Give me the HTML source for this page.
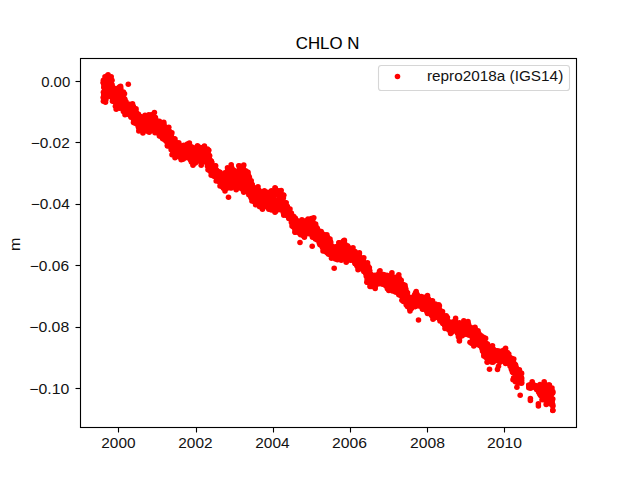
<!DOCTYPE html>
<html><head><meta charset="utf-8"><style>
html,body{margin:0;padding:0;background:#fff;width:640px;height:480px;overflow:hidden}
svg{display:block}
text{font-family:"Liberation Sans",sans-serif}
</style></head><body>
<svg width="640" height="480" viewBox="0 0 640 480" fill="#000">
<rect width="640" height="480" fill="#fff"/>
<g fill="#f00" stroke="none">
<circle cx="238.8" cy="170.3" r="2.78"/><circle cx="375.6" cy="277.0" r="2.78"/><circle cx="327.5" cy="243.0" r="2.78"/><circle cx="127.6" cy="109.1" r="2.78"/><circle cx="119.1" cy="96.5" r="2.78"/><circle cx="132.6" cy="106.7" r="2.78"/><circle cx="280.9" cy="207.4" r="2.78"/><circle cx="155.2" cy="120.4" r="2.78"/><circle cx="365.8" cy="273.1" r="2.78"/><circle cx="344.7" cy="249.4" r="2.78"/><circle cx="511.7" cy="358.9" r="2.78"/><circle cx="462.4" cy="326.4" r="2.78"/><circle cx="163.7" cy="125.5" r="2.78"/><circle cx="232.4" cy="183.7" r="2.78"/><circle cx="179.0" cy="152.0" r="2.78"/><circle cx="370.6" cy="278.0" r="2.78"/><circle cx="332.5" cy="247.0" r="2.78"/><circle cx="128.3" cy="106.2" r="2.78"/><circle cx="388.0" cy="281.4" r="2.78"/><circle cx="234.8" cy="180.8" r="2.78"/><circle cx="292.9" cy="219.4" r="2.78"/><circle cx="435.6" cy="312.8" r="2.78"/><circle cx="205.5" cy="155.2" r="2.78"/><circle cx="323.0" cy="247.6" r="2.78"/><circle cx="408.5" cy="299.5" r="2.78"/><circle cx="513.3" cy="362.3" r="2.78"/><circle cx="278.3" cy="204.5" r="2.78"/><circle cx="166.9" cy="136.0" r="2.78"/><circle cx="119.8" cy="100.6" r="2.78"/><circle cx="423.2" cy="303.8" r="2.78"/><circle cx="469.5" cy="330.3" r="2.78"/><circle cx="394.2" cy="285.0" r="2.78"/><circle cx="345.9" cy="251.8" r="2.78"/><circle cx="454.7" cy="329.4" r="2.78"/><circle cx="301.7" cy="229.7" r="2.78"/><circle cx="128.8" cy="111.6" r="2.78"/><circle cx="374.0" cy="286.4" r="2.78"/><circle cx="447.1" cy="321.4" r="2.78"/><circle cx="264.7" cy="202.7" r="2.78"/><circle cx="112.8" cy="94.3" r="2.78"/><circle cx="173.7" cy="139.8" r="2.78"/><circle cx="128.0" cy="112.0" r="2.78"/><circle cx="157.5" cy="124.8" r="2.78"/><circle cx="266.9" cy="205.9" r="2.78"/><circle cx="137.1" cy="119.0" r="2.78"/><circle cx="333.2" cy="256.1" r="2.78"/><circle cx="446.0" cy="326.4" r="2.78"/><circle cx="219.8" cy="177.9" r="2.78"/><circle cx="253.4" cy="199.4" r="2.78"/><circle cx="503.9" cy="352.1" r="2.78"/><circle cx="177.1" cy="145.9" r="2.78"/><circle cx="201.0" cy="155.2" r="2.78"/><circle cx="349.8" cy="251.0" r="2.78"/><circle cx="105.1" cy="87.6" r="2.78"/><circle cx="257.8" cy="197.6" r="2.78"/><circle cx="502.0" cy="358.0" r="2.78"/><circle cx="319.0" cy="237.5" r="2.78"/><circle cx="386.2" cy="277.2" r="2.78"/><circle cx="479.6" cy="343.1" r="2.78"/><circle cx="469.1" cy="335.1" r="2.78"/><circle cx="267.5" cy="199.3" r="2.78"/><circle cx="146.7" cy="125.7" r="2.78"/><circle cx="129.4" cy="105.1" r="2.78"/><circle cx="190.7" cy="148.6" r="2.78"/><circle cx="245.6" cy="170.8" r="2.78"/><circle cx="103.5" cy="83.2" r="2.78"/><circle cx="145.8" cy="121.9" r="2.78"/><circle cx="114.0" cy="101.3" r="2.78"/><circle cx="360.2" cy="257.3" r="2.78"/><circle cx="208.9" cy="158.4" r="2.78"/><circle cx="255.7" cy="190.7" r="2.78"/><circle cx="458.4" cy="336.8" r="2.78"/><circle cx="298.3" cy="227.0" r="2.78"/><circle cx="139.3" cy="117.3" r="2.78"/><circle cx="246.7" cy="177.0" r="2.78"/><circle cx="450.0" cy="323.6" r="2.78"/><circle cx="113.0" cy="100.3" r="2.78"/><circle cx="324.3" cy="237.1" r="2.78"/><circle cx="330.6" cy="242.2" r="2.78"/><circle cx="324.3" cy="250.2" r="2.78"/><circle cx="464.5" cy="329.9" r="2.78"/><circle cx="212.6" cy="168.7" r="2.78"/><circle cx="173.2" cy="150.5" r="2.78"/><circle cx="326.1" cy="248.5" r="2.78"/><circle cx="241.3" cy="171.4" r="2.78"/><circle cx="442.8" cy="323.5" r="2.78"/><circle cx="460.0" cy="335.8" r="2.78"/><circle cx="445.6" cy="324.7" r="2.78"/><circle cx="198.2" cy="154.0" r="2.78"/><circle cx="252.1" cy="184.6" r="2.78"/><circle cx="115.1" cy="94.1" r="2.78"/><circle cx="211.8" cy="171.1" r="2.78"/><circle cx="503.4" cy="355.4" r="2.78"/><circle cx="495.3" cy="360.6" r="2.78"/><circle cx="502.8" cy="354.6" r="2.78"/><circle cx="195.6" cy="150.9" r="2.78"/><circle cx="185.7" cy="148.3" r="2.78"/><circle cx="364.4" cy="270.1" r="2.78"/><circle cx="454.9" cy="325.0" r="2.78"/><circle cx="376.5" cy="284.1" r="2.78"/><circle cx="138.8" cy="124.9" r="2.78"/><circle cx="483.9" cy="351.3" r="2.78"/><circle cx="417.1" cy="299.6" r="2.78"/><circle cx="178.0" cy="154.4" r="2.78"/><circle cx="242.5" cy="184.4" r="2.78"/><circle cx="509.8" cy="359.6" r="2.78"/><circle cx="271.3" cy="208.0" r="2.78"/><circle cx="406.5" cy="293.4" r="2.78"/><circle cx="156.5" cy="123.5" r="2.78"/><circle cx="481.8" cy="346.4" r="2.78"/><circle cx="164.5" cy="137.7" r="2.78"/><circle cx="513.4" cy="372.5" r="2.78"/><circle cx="249.9" cy="188.0" r="2.78"/><circle cx="158.2" cy="122.4" r="2.78"/><circle cx="509.4" cy="361.4" r="2.78"/><circle cx="323.6" cy="249.0" r="2.78"/><circle cx="284.8" cy="212.6" r="2.78"/><circle cx="448.9" cy="322.7" r="2.78"/><circle cx="208.7" cy="156.9" r="2.78"/><circle cx="204.0" cy="155.6" r="2.78"/><circle cx="211.9" cy="168.4" r="2.78"/><circle cx="158.2" cy="132.7" r="2.78"/><circle cx="251.3" cy="189.8" r="2.78"/><circle cx="347.4" cy="258.9" r="2.78"/><circle cx="279.3" cy="207.5" r="2.78"/><circle cx="313.2" cy="228.4" r="2.78"/><circle cx="322.3" cy="233.9" r="2.78"/><circle cx="287.5" cy="208.1" r="2.78"/><circle cx="105.0" cy="96.1" r="2.78"/><circle cx="175.5" cy="148.3" r="2.78"/><circle cx="406.7" cy="298.6" r="2.78"/><circle cx="239.7" cy="177.6" r="2.78"/><circle cx="335.7" cy="255.5" r="2.78"/><circle cx="147.8" cy="124.5" r="2.78"/><circle cx="207.3" cy="154.3" r="2.78"/><circle cx="426.4" cy="304.2" r="2.78"/><circle cx="338.3" cy="255.1" r="2.78"/><circle cx="485.0" cy="347.2" r="2.78"/><circle cx="359.6" cy="261.7" r="2.78"/><circle cx="317.6" cy="236.9" r="2.78"/><circle cx="292.6" cy="221.0" r="2.78"/><circle cx="303.3" cy="234.2" r="2.78"/><circle cx="395.8" cy="289.9" r="2.78"/><circle cx="497.4" cy="354.4" r="2.78"/><circle cx="337.4" cy="257.5" r="2.78"/><circle cx="454.7" cy="321.9" r="2.78"/><circle cx="154.2" cy="121.7" r="2.78"/><circle cx="133.7" cy="110.5" r="2.78"/><circle cx="134.0" cy="117.1" r="2.78"/><circle cx="431.3" cy="314.4" r="2.78"/><circle cx="168.0" cy="140.3" r="2.78"/><circle cx="379.5" cy="274.4" r="2.78"/><circle cx="472.6" cy="342.9" r="2.78"/><circle cx="195.2" cy="161.0" r="2.78"/><circle cx="269.9" cy="200.1" r="2.78"/><circle cx="517.4" cy="382.6" r="2.78"/><circle cx="170.9" cy="139.2" r="2.78"/><circle cx="319.0" cy="234.2" r="2.78"/><circle cx="185.2" cy="149.6" r="2.78"/><circle cx="405.4" cy="288.3" r="2.78"/><circle cx="335.1" cy="252.2" r="2.78"/><circle cx="110.9" cy="83.7" r="2.78"/><circle cx="364.3" cy="265.7" r="2.78"/><circle cx="130.3" cy="115.3" r="2.78"/><circle cx="433.1" cy="317.2" r="2.78"/><circle cx="147.2" cy="120.3" r="2.78"/><circle cx="119.9" cy="102.6" r="2.78"/><circle cx="216.5" cy="170.0" r="2.78"/><circle cx="280.0" cy="208.0" r="2.78"/><circle cx="445.9" cy="319.7" r="2.78"/><circle cx="165.9" cy="140.9" r="2.78"/><circle cx="342.0" cy="254.2" r="2.78"/><circle cx="140.8" cy="117.0" r="2.78"/><circle cx="391.2" cy="280.9" r="2.78"/><circle cx="133.7" cy="120.5" r="2.78"/><circle cx="368.7" cy="280.1" r="2.78"/><circle cx="138.4" cy="127.0" r="2.78"/><circle cx="131.2" cy="114.7" r="2.78"/><circle cx="293.2" cy="220.3" r="2.78"/><circle cx="334.7" cy="256.8" r="2.78"/><circle cx="215.4" cy="168.6" r="2.78"/><circle cx="323.8" cy="238.2" r="2.78"/><circle cx="149.2" cy="118.5" r="2.78"/><circle cx="124.5" cy="98.7" r="2.78"/><circle cx="233.9" cy="176.5" r="2.78"/><circle cx="421.0" cy="300.5" r="2.78"/><circle cx="312.5" cy="222.4" r="2.78"/><circle cx="248.5" cy="175.4" r="2.78"/><circle cx="208.1" cy="151.4" r="2.78"/><circle cx="410.0" cy="305.1" r="2.78"/><circle cx="182.6" cy="151.7" r="2.78"/><circle cx="494.3" cy="350.3" r="2.78"/><circle cx="445.9" cy="321.6" r="2.78"/><circle cx="310.4" cy="231.4" r="2.78"/><circle cx="267.8" cy="200.7" r="2.78"/><circle cx="391.0" cy="289.0" r="2.78"/><circle cx="246.7" cy="188.7" r="2.78"/><circle cx="399.0" cy="287.4" r="2.78"/><circle cx="272.6" cy="197.2" r="2.78"/><circle cx="126.1" cy="104.7" r="2.78"/><circle cx="133.0" cy="116.3" r="2.78"/><circle cx="210.3" cy="160.2" r="2.78"/><circle cx="138.7" cy="127.3" r="2.78"/><circle cx="467.5" cy="329.8" r="2.78"/><circle cx="221.3" cy="176.7" r="2.78"/><circle cx="225.9" cy="180.0" r="2.78"/><circle cx="169.3" cy="137.0" r="2.78"/><circle cx="213.5" cy="175.9" r="2.78"/><circle cx="510.2" cy="361.3" r="2.78"/><circle cx="205.6" cy="159.6" r="2.78"/><circle cx="232.8" cy="176.0" r="2.78"/><circle cx="103.8" cy="87.5" r="2.78"/><circle cx="301.9" cy="227.7" r="2.78"/><circle cx="187.4" cy="150.9" r="2.78"/><circle cx="105.5" cy="84.0" r="2.78"/><circle cx="140.9" cy="121.9" r="2.78"/><circle cx="120.8" cy="88.6" r="2.78"/><circle cx="230.6" cy="171.3" r="2.78"/><circle cx="348.3" cy="254.0" r="2.78"/><circle cx="417.3" cy="301.9" r="2.78"/><circle cx="402.8" cy="297.8" r="2.78"/><circle cx="266.3" cy="197.9" r="2.78"/><circle cx="515.2" cy="368.1" r="2.78"/><circle cx="406.3" cy="298.7" r="2.78"/><circle cx="121.7" cy="105.8" r="2.78"/><circle cx="476.4" cy="338.7" r="2.78"/><circle cx="410.3" cy="307.4" r="2.78"/><circle cx="161.6" cy="130.0" r="2.78"/><circle cx="314.3" cy="234.9" r="2.78"/><circle cx="439.9" cy="317.4" r="2.78"/><circle cx="347.7" cy="258.7" r="2.78"/><circle cx="389.0" cy="285.0" r="2.78"/><circle cx="199.6" cy="147.8" r="2.78"/><circle cx="159.0" cy="126.8" r="2.78"/><circle cx="147.3" cy="128.6" r="2.78"/><circle cx="337.0" cy="253.6" r="2.78"/><circle cx="365.3" cy="269.1" r="2.78"/><circle cx="308.0" cy="220.6" r="2.78"/><circle cx="437.0" cy="313.2" r="2.78"/><circle cx="313.7" cy="228.7" r="2.78"/><circle cx="379.1" cy="273.8" r="2.78"/><circle cx="411.5" cy="300.7" r="2.78"/><circle cx="134.5" cy="112.0" r="2.78"/><circle cx="408.4" cy="298.5" r="2.78"/><circle cx="412.8" cy="306.8" r="2.78"/><circle cx="310.0" cy="225.1" r="2.78"/><circle cx="303.7" cy="230.8" r="2.78"/><circle cx="424.2" cy="304.7" r="2.78"/><circle cx="372.2" cy="277.1" r="2.78"/><circle cx="165.0" cy="131.8" r="2.78"/><circle cx="414.2" cy="298.5" r="2.78"/><circle cx="340.8" cy="243.5" r="2.78"/><circle cx="128.8" cy="107.0" r="2.78"/><circle cx="384.4" cy="282.1" r="2.78"/><circle cx="386.0" cy="279.4" r="2.78"/><circle cx="319.4" cy="236.2" r="2.78"/><circle cx="298.4" cy="223.3" r="2.78"/><circle cx="477.1" cy="333.7" r="2.78"/><circle cx="512.5" cy="369.9" r="2.78"/><circle cx="110.7" cy="85.5" r="2.78"/><circle cx="446.3" cy="327.8" r="2.78"/><circle cx="291.4" cy="215.9" r="2.78"/><circle cx="191.1" cy="160.4" r="2.78"/><circle cx="191.5" cy="155.7" r="2.78"/><circle cx="162.7" cy="130.6" r="2.78"/><circle cx="501.9" cy="352.3" r="2.78"/><circle cx="446.4" cy="323.0" r="2.78"/><circle cx="474.3" cy="339.7" r="2.78"/><circle cx="200.2" cy="160.9" r="2.78"/><circle cx="306.7" cy="221.0" r="2.78"/><circle cx="104.9" cy="89.3" r="2.78"/><circle cx="291.9" cy="217.3" r="2.78"/><circle cx="162.2" cy="127.9" r="2.78"/><circle cx="235.6" cy="185.2" r="2.78"/><circle cx="104.1" cy="95.0" r="2.78"/><circle cx="454.3" cy="322.1" r="2.78"/><circle cx="490.8" cy="356.7" r="2.78"/><circle cx="480.5" cy="339.1" r="2.78"/><circle cx="259.1" cy="195.9" r="2.78"/><circle cx="521.1" cy="378.6" r="2.78"/><circle cx="254.2" cy="194.5" r="2.78"/><circle cx="218.5" cy="172.0" r="2.78"/><circle cx="145.9" cy="128.7" r="2.78"/><circle cx="222.8" cy="186.5" r="2.78"/><circle cx="207.7" cy="154.9" r="2.78"/><circle cx="317.1" cy="229.9" r="2.78"/><circle cx="259.5" cy="205.1" r="2.78"/><circle cx="473.2" cy="341.1" r="2.78"/><circle cx="367.2" cy="279.7" r="2.78"/><circle cx="496.8" cy="356.6" r="2.78"/><circle cx="404.3" cy="286.7" r="2.78"/><circle cx="409.7" cy="303.6" r="2.78"/><circle cx="418.2" cy="302.2" r="2.78"/><circle cx="223.1" cy="174.7" r="2.78"/><circle cx="491.0" cy="348.5" r="2.78"/><circle cx="300.9" cy="225.5" r="2.78"/><circle cx="227.9" cy="182.8" r="2.78"/><circle cx="511.7" cy="361.2" r="2.78"/><circle cx="377.7" cy="277.7" r="2.78"/><circle cx="336.5" cy="251.1" r="2.78"/><circle cx="173.4" cy="140.0" r="2.78"/><circle cx="190.3" cy="158.8" r="2.78"/><circle cx="311.3" cy="223.0" r="2.78"/><circle cx="482.4" cy="349.3" r="2.78"/><circle cx="291.6" cy="215.0" r="2.78"/><circle cx="183.9" cy="147.7" r="2.78"/><circle cx="246.4" cy="172.9" r="2.78"/><circle cx="203.4" cy="151.2" r="2.78"/><circle cx="341.6" cy="257.1" r="2.78"/><circle cx="416.9" cy="298.7" r="2.78"/><circle cx="276.5" cy="200.6" r="2.78"/><circle cx="261.0" cy="197.3" r="2.78"/><circle cx="129.3" cy="107.3" r="2.78"/><circle cx="508.1" cy="355.5" r="2.78"/><circle cx="313.9" cy="230.7" r="2.78"/><circle cx="464.3" cy="324.7" r="2.78"/><circle cx="216.7" cy="171.7" r="2.78"/><circle cx="270.6" cy="199.3" r="2.78"/><circle cx="502.4" cy="359.7" r="2.78"/><circle cx="468.5" cy="324.3" r="2.78"/><circle cx="116.9" cy="102.3" r="2.78"/><circle cx="478.0" cy="337.5" r="2.78"/><circle cx="349.0" cy="247.8" r="2.78"/><circle cx="267.1" cy="206.7" r="2.78"/><circle cx="448.7" cy="328.8" r="2.78"/><circle cx="510.0" cy="358.7" r="2.78"/><circle cx="149.0" cy="118.4" r="2.78"/><circle cx="321.9" cy="242.7" r="2.78"/><circle cx="497.1" cy="358.3" r="2.78"/><circle cx="374.1" cy="284.2" r="2.78"/><circle cx="294.7" cy="225.1" r="2.78"/><circle cx="119.9" cy="102.7" r="2.78"/><circle cx="200.7" cy="161.8" r="2.78"/><circle cx="373.4" cy="279.5" r="2.78"/><circle cx="156.9" cy="124.7" r="2.78"/><circle cx="369.5" cy="279.8" r="2.78"/><circle cx="150.3" cy="116.7" r="2.78"/><circle cx="322.7" cy="242.6" r="2.78"/><circle cx="265.7" cy="196.2" r="2.78"/><circle cx="354.8" cy="252.7" r="2.78"/><circle cx="229.5" cy="176.4" r="2.78"/><circle cx="504.4" cy="357.6" r="2.78"/><circle cx="473.0" cy="335.8" r="2.78"/><circle cx="201.6" cy="151.4" r="2.78"/><circle cx="505.1" cy="358.4" r="2.78"/><circle cx="231.9" cy="168.2" r="2.78"/><circle cx="311.8" cy="230.0" r="2.78"/><circle cx="279.0" cy="196.4" r="2.78"/><circle cx="382.5" cy="282.1" r="2.78"/><circle cx="198.2" cy="147.7" r="2.78"/><circle cx="244.8" cy="177.9" r="2.78"/><circle cx="388.9" cy="278.4" r="2.78"/><circle cx="436.7" cy="313.2" r="2.78"/><circle cx="314.5" cy="225.2" r="2.78"/><circle cx="509.0" cy="358.3" r="2.78"/><circle cx="446.3" cy="319.9" r="2.78"/><circle cx="196.0" cy="157.7" r="2.78"/><circle cx="226.7" cy="187.5" r="2.78"/><circle cx="310.7" cy="222.6" r="2.78"/><circle cx="196.8" cy="152.8" r="2.78"/><circle cx="381.6" cy="282.8" r="2.78"/><circle cx="164.6" cy="132.2" r="2.78"/><circle cx="192.4" cy="162.6" r="2.78"/><circle cx="162.7" cy="124.1" r="2.78"/><circle cx="128.5" cy="108.2" r="2.78"/><circle cx="479.0" cy="343.4" r="2.78"/><circle cx="409.8" cy="309.2" r="2.78"/><circle cx="493.0" cy="352.0" r="2.78"/><circle cx="181.0" cy="157.3" r="2.78"/><circle cx="415.5" cy="294.2" r="2.78"/><circle cx="381.3" cy="277.3" r="2.78"/><circle cx="259.8" cy="195.8" r="2.78"/><circle cx="174.2" cy="138.9" r="2.78"/><circle cx="220.4" cy="177.6" r="2.78"/><circle cx="503.0" cy="352.0" r="2.78"/><circle cx="506.7" cy="354.0" r="2.78"/><circle cx="252.5" cy="197.4" r="2.78"/><circle cx="447.2" cy="323.0" r="2.78"/><circle cx="124.0" cy="102.6" r="2.78"/><circle cx="259.3" cy="204.4" r="2.78"/><circle cx="184.1" cy="150.5" r="2.78"/><circle cx="478.5" cy="333.4" r="2.78"/><circle cx="275.2" cy="206.6" r="2.78"/><circle cx="424.0" cy="298.0" r="2.78"/><circle cx="118.0" cy="90.2" r="2.78"/><circle cx="488.2" cy="349.6" r="2.78"/><circle cx="415.9" cy="304.2" r="2.78"/><circle cx="245.2" cy="175.1" r="2.78"/><circle cx="503.9" cy="357.3" r="2.78"/><circle cx="213.0" cy="172.8" r="2.78"/><circle cx="235.7" cy="175.0" r="2.78"/><circle cx="105.0" cy="95.1" r="2.78"/><circle cx="486.7" cy="353.7" r="2.78"/><circle cx="497.9" cy="352.4" r="2.78"/><circle cx="201.2" cy="155.1" r="2.78"/><circle cx="503.5" cy="361.0" r="2.78"/><circle cx="265.0" cy="196.4" r="2.78"/><circle cx="283.2" cy="204.3" r="2.78"/><circle cx="491.5" cy="349.5" r="2.78"/><circle cx="439.0" cy="315.1" r="2.78"/><circle cx="447.5" cy="326.8" r="2.78"/><circle cx="357.4" cy="258.0" r="2.78"/><circle cx="237.0" cy="175.8" r="2.78"/><circle cx="430.5" cy="301.4" r="2.78"/><circle cx="185.9" cy="154.1" r="2.78"/><circle cx="206.8" cy="150.7" r="2.78"/><circle cx="117.5" cy="99.3" r="2.78"/><circle cx="239.6" cy="187.0" r="2.78"/><circle cx="472.9" cy="343.4" r="2.78"/><circle cx="214.2" cy="167.0" r="2.78"/><circle cx="143.7" cy="124.0" r="2.78"/><circle cx="400.2" cy="286.8" r="2.78"/><circle cx="201.3" cy="154.2" r="2.78"/><circle cx="362.8" cy="266.0" r="2.78"/><circle cx="416.2" cy="303.6" r="2.78"/><circle cx="381.3" cy="274.8" r="2.78"/><circle cx="455.1" cy="323.1" r="2.78"/><circle cx="340.5" cy="249.1" r="2.78"/><circle cx="412.1" cy="299.6" r="2.78"/><circle cx="206.9" cy="153.0" r="2.78"/><circle cx="167.5" cy="142.6" r="2.78"/><circle cx="345.2" cy="248.8" r="2.78"/><circle cx="269.0" cy="207.7" r="2.78"/><circle cx="315.6" cy="228.5" r="2.78"/><circle cx="441.5" cy="318.1" r="2.78"/><circle cx="517.8" cy="371.0" r="2.78"/><circle cx="301.9" cy="231.8" r="2.78"/><circle cx="454.9" cy="329.0" r="2.78"/><circle cx="120.3" cy="93.6" r="2.78"/><circle cx="153.2" cy="117.6" r="2.78"/><circle cx="510.3" cy="361.9" r="2.78"/><circle cx="492.4" cy="352.3" r="2.78"/><circle cx="465.6" cy="327.4" r="2.78"/><circle cx="212.1" cy="172.4" r="2.78"/><circle cx="498.9" cy="352.8" r="2.78"/><circle cx="352.7" cy="256.1" r="2.78"/><circle cx="194.4" cy="153.4" r="2.78"/><circle cx="162.5" cy="126.1" r="2.78"/><circle cx="210.0" cy="165.6" r="2.78"/><circle cx="375.9" cy="278.1" r="2.78"/><circle cx="108.1" cy="82.2" r="2.78"/><circle cx="387.1" cy="278.7" r="2.78"/><circle cx="234.0" cy="174.8" r="2.78"/><circle cx="436.0" cy="311.0" r="2.78"/><circle cx="129.8" cy="105.6" r="2.78"/><circle cx="268.7" cy="201.1" r="2.78"/><circle cx="370.7" cy="275.2" r="2.78"/><circle cx="171.8" cy="146.7" r="2.78"/><circle cx="274.8" cy="195.4" r="2.78"/><circle cx="232.0" cy="186.0" r="2.78"/><circle cx="234.0" cy="180.6" r="2.78"/><circle cx="252.8" cy="191.8" r="2.78"/><circle cx="464.8" cy="333.2" r="2.78"/><circle cx="255.5" cy="191.8" r="2.78"/><circle cx="407.9" cy="297.3" r="2.78"/><circle cx="105.8" cy="97.7" r="2.78"/><circle cx="280.6" cy="207.0" r="2.78"/><circle cx="273.3" cy="207.6" r="2.78"/><circle cx="296.1" cy="222.5" r="2.78"/><circle cx="109.6" cy="85.8" r="2.78"/><circle cx="371.3" cy="284.6" r="2.78"/><circle cx="140.6" cy="125.0" r="2.78"/><circle cx="258.5" cy="197.1" r="2.78"/><circle cx="164.4" cy="130.1" r="2.78"/><circle cx="321.3" cy="245.1" r="2.78"/><circle cx="148.9" cy="123.4" r="2.78"/><circle cx="440.0" cy="319.1" r="2.78"/><circle cx="185.9" cy="147.3" r="2.78"/><circle cx="497.8" cy="360.5" r="2.78"/><circle cx="305.3" cy="221.6" r="2.78"/><circle cx="490.7" cy="352.1" r="2.78"/><circle cx="481.6" cy="344.1" r="2.78"/><circle cx="448.2" cy="321.4" r="2.78"/><circle cx="432.0" cy="305.1" r="2.78"/><circle cx="272.6" cy="206.7" r="2.78"/><circle cx="450.2" cy="324.0" r="2.78"/><circle cx="194.6" cy="153.7" r="2.78"/><circle cx="320.0" cy="235.9" r="2.78"/><circle cx="154.8" cy="119.7" r="2.78"/><circle cx="406.6" cy="302.5" r="2.78"/><circle cx="120.6" cy="98.9" r="2.78"/><circle cx="420.2" cy="297.3" r="2.78"/><circle cx="454.0" cy="322.4" r="2.78"/><circle cx="354.1" cy="256.9" r="2.78"/><circle cx="365.6" cy="265.3" r="2.78"/><circle cx="279.1" cy="201.8" r="2.78"/><circle cx="281.4" cy="204.8" r="2.78"/><circle cx="290.2" cy="215.1" r="2.78"/><circle cx="113.2" cy="96.6" r="2.78"/><circle cx="308.1" cy="223.3" r="2.78"/><circle cx="422.7" cy="305.7" r="2.78"/><circle cx="295.1" cy="221.5" r="2.78"/><circle cx="301.3" cy="222.7" r="2.78"/><circle cx="157.1" cy="126.7" r="2.78"/><circle cx="141.7" cy="122.8" r="2.78"/><circle cx="316.7" cy="227.6" r="2.78"/><circle cx="369.6" cy="271.1" r="2.78"/><circle cx="410.2" cy="307.2" r="2.78"/><circle cx="317.3" cy="228.5" r="2.78"/><circle cx="314.1" cy="226.9" r="2.78"/><circle cx="501.1" cy="352.5" r="2.78"/><circle cx="461.8" cy="335.9" r="2.78"/><circle cx="409.6" cy="306.9" r="2.78"/><circle cx="184.4" cy="157.1" r="2.78"/><circle cx="309.1" cy="231.8" r="2.78"/><circle cx="486.5" cy="345.4" r="2.78"/><circle cx="433.1" cy="316.6" r="2.78"/><circle cx="130.8" cy="108.6" r="2.78"/><circle cx="419.6" cy="298.1" r="2.78"/><circle cx="478.3" cy="335.8" r="2.78"/><circle cx="444.5" cy="316.9" r="2.78"/><circle cx="313.4" cy="235.3" r="2.78"/><circle cx="190.5" cy="149.8" r="2.78"/><circle cx="315.0" cy="228.2" r="2.78"/><circle cx="118.8" cy="92.0" r="2.78"/><circle cx="170.8" cy="146.8" r="2.78"/><circle cx="387.6" cy="286.7" r="2.78"/><circle cx="174.0" cy="151.6" r="2.78"/><circle cx="151.5" cy="123.6" r="2.78"/><circle cx="369.5" cy="274.9" r="2.78"/><circle cx="468.5" cy="330.2" r="2.78"/><circle cx="346.0" cy="258.7" r="2.78"/><circle cx="147.1" cy="130.9" r="2.78"/><circle cx="366.8" cy="269.7" r="2.78"/><circle cx="437.0" cy="308.0" r="2.78"/><circle cx="517.6" cy="378.4" r="2.78"/><circle cx="254.1" cy="198.6" r="2.78"/><circle cx="288.4" cy="209.4" r="2.78"/><circle cx="414.4" cy="295.6" r="2.78"/><circle cx="446.3" cy="320.0" r="2.78"/><circle cx="370.7" cy="285.0" r="2.78"/><circle cx="348.4" cy="255.7" r="2.78"/><circle cx="234.1" cy="171.5" r="2.78"/><circle cx="117.5" cy="92.0" r="2.78"/><circle cx="361.0" cy="261.8" r="2.78"/><circle cx="317.8" cy="239.7" r="2.78"/><circle cx="158.6" cy="125.0" r="2.78"/><circle cx="376.5" cy="275.6" r="2.78"/><circle cx="104.5" cy="86.5" r="2.78"/><circle cx="147.9" cy="121.6" r="2.78"/><circle cx="197.2" cy="154.6" r="2.78"/><circle cx="349.8" cy="250.3" r="2.78"/><circle cx="364.3" cy="265.3" r="2.78"/><circle cx="159.7" cy="134.1" r="2.78"/><circle cx="205.3" cy="150.1" r="2.78"/><circle cx="143.4" cy="126.1" r="2.78"/><circle cx="467.8" cy="331.0" r="2.78"/><circle cx="271.5" cy="196.0" r="2.78"/><circle cx="108.2" cy="88.0" r="2.78"/><circle cx="338.6" cy="249.3" r="2.78"/><circle cx="373.4" cy="280.8" r="2.78"/><circle cx="495.3" cy="357.9" r="2.78"/><circle cx="207.3" cy="163.4" r="2.78"/><circle cx="121.8" cy="100.1" r="2.78"/><circle cx="273.2" cy="195.0" r="2.78"/><circle cx="127.8" cy="112.1" r="2.78"/><circle cx="108.5" cy="86.2" r="2.78"/><circle cx="496.9" cy="353.0" r="2.78"/><circle cx="186.8" cy="152.2" r="2.78"/><circle cx="315.4" cy="233.7" r="2.78"/><circle cx="443.6" cy="316.1" r="2.78"/><circle cx="232.8" cy="174.9" r="2.78"/><circle cx="123.7" cy="109.5" r="2.78"/><circle cx="430.9" cy="311.2" r="2.78"/><circle cx="106.0" cy="96.0" r="2.78"/><circle cx="415.0" cy="299.4" r="2.78"/><circle cx="413.6" cy="300.6" r="2.78"/><circle cx="197.9" cy="148.6" r="2.78"/><circle cx="200.5" cy="148.0" r="2.78"/><circle cx="243.7" cy="184.6" r="2.78"/><circle cx="394.1" cy="288.3" r="2.78"/><circle cx="401.0" cy="285.5" r="2.78"/><circle cx="335.0" cy="252.2" r="2.78"/><circle cx="433.1" cy="310.5" r="2.78"/><circle cx="214.3" cy="173.3" r="2.78"/><circle cx="507.0" cy="354.7" r="2.78"/><circle cx="471.5" cy="328.9" r="2.78"/><circle cx="212.3" cy="167.0" r="2.78"/><circle cx="414.5" cy="305.0" r="2.78"/><circle cx="415.5" cy="297.6" r="2.78"/><circle cx="471.5" cy="333.1" r="2.78"/><circle cx="203.4" cy="160.6" r="2.78"/><circle cx="367.2" cy="275.8" r="2.78"/><circle cx="381.6" cy="283.0" r="2.78"/><circle cx="299.7" cy="231.1" r="2.78"/><circle cx="395.2" cy="289.2" r="2.78"/><circle cx="286.2" cy="212.3" r="2.78"/><circle cx="341.9" cy="247.8" r="2.78"/><circle cx="192.0" cy="157.0" r="2.78"/><circle cx="135.9" cy="123.6" r="2.78"/><circle cx="163.9" cy="124.5" r="2.78"/><circle cx="148.0" cy="129.8" r="2.78"/><circle cx="247.6" cy="175.8" r="2.78"/><circle cx="115.4" cy="90.6" r="2.78"/><circle cx="393.1" cy="284.6" r="2.78"/><circle cx="394.9" cy="287.5" r="2.78"/><circle cx="130.9" cy="111.2" r="2.78"/><circle cx="255.4" cy="200.4" r="2.78"/><circle cx="446.2" cy="326.8" r="2.78"/><circle cx="131.0" cy="114.3" r="2.78"/><circle cx="485.8" cy="357.2" r="2.78"/><circle cx="148.2" cy="119.3" r="2.78"/><circle cx="150.2" cy="116.2" r="2.78"/><circle cx="457.9" cy="333.2" r="2.78"/><circle cx="368.6" cy="280.3" r="2.78"/><circle cx="367.5" cy="269.3" r="2.78"/><circle cx="145.2" cy="118.2" r="2.78"/><circle cx="420.1" cy="299.0" r="2.78"/><circle cx="236.9" cy="177.1" r="2.78"/><circle cx="112.1" cy="87.1" r="2.78"/><circle cx="221.6" cy="182.6" r="2.78"/><circle cx="257.3" cy="193.6" r="2.78"/><circle cx="506.6" cy="357.1" r="2.78"/><circle cx="459.5" cy="333.6" r="2.78"/><circle cx="116.3" cy="97.2" r="2.78"/><circle cx="285.9" cy="212.4" r="2.78"/><circle cx="248.4" cy="187.7" r="2.78"/><circle cx="328.3" cy="241.7" r="2.78"/><circle cx="464.0" cy="323.3" r="2.78"/><circle cx="446.3" cy="319.1" r="2.78"/><circle cx="103.9" cy="83.8" r="2.78"/><circle cx="422.2" cy="307.4" r="2.78"/><circle cx="105.2" cy="89.2" r="2.78"/><circle cx="308.9" cy="229.8" r="2.78"/><circle cx="180.6" cy="151.5" r="2.78"/><circle cx="248.6" cy="190.1" r="2.78"/><circle cx="212.4" cy="174.4" r="2.78"/><circle cx="222.0" cy="176.6" r="2.78"/><circle cx="395.9" cy="285.0" r="2.78"/><circle cx="149.4" cy="125.4" r="2.78"/><circle cx="137.2" cy="124.0" r="2.78"/><circle cx="395.0" cy="288.2" r="2.78"/><circle cx="366.0" cy="266.5" r="2.78"/><circle cx="271.2" cy="198.4" r="2.78"/><circle cx="475.8" cy="330.8" r="2.78"/><circle cx="475.0" cy="329.1" r="2.78"/><circle cx="189.6" cy="148.6" r="2.78"/><circle cx="480.3" cy="341.1" r="2.78"/><circle cx="262.0" cy="205.8" r="2.78"/><circle cx="201.1" cy="154.8" r="2.78"/><circle cx="325.7" cy="247.8" r="2.78"/><circle cx="418.3" cy="302.3" r="2.78"/><circle cx="249.1" cy="182.3" r="2.78"/><circle cx="168.3" cy="142.7" r="2.78"/><circle cx="380.3" cy="281.1" r="2.78"/><circle cx="174.3" cy="146.3" r="2.78"/><circle cx="426.9" cy="305.4" r="2.78"/><circle cx="156.1" cy="126.2" r="2.78"/><circle cx="473.6" cy="332.4" r="2.78"/><circle cx="183.5" cy="149.9" r="2.78"/><circle cx="397.5" cy="290.1" r="2.78"/><circle cx="168.0" cy="131.2" r="2.78"/><circle cx="206.9" cy="154.2" r="2.78"/><circle cx="321.8" cy="235.5" r="2.78"/><circle cx="240.6" cy="170.8" r="2.78"/><circle cx="511.2" cy="365.0" r="2.78"/><circle cx="146.0" cy="130.6" r="2.78"/><circle cx="145.9" cy="122.2" r="2.78"/><circle cx="514.9" cy="378.2" r="2.78"/><circle cx="410.1" cy="304.0" r="2.78"/><circle cx="185.4" cy="153.0" r="2.78"/><circle cx="148.1" cy="119.4" r="2.78"/><circle cx="265.8" cy="193.4" r="2.78"/><circle cx="270.3" cy="205.0" r="2.78"/><circle cx="393.4" cy="283.0" r="2.78"/><circle cx="367.9" cy="273.0" r="2.78"/><circle cx="162.7" cy="131.8" r="2.78"/><circle cx="272.6" cy="204.7" r="2.78"/><circle cx="483.1" cy="344.3" r="2.78"/><circle cx="343.4" cy="255.2" r="2.78"/><circle cx="279.5" cy="196.1" r="2.78"/><circle cx="405.4" cy="300.7" r="2.78"/><circle cx="427.1" cy="307.3" r="2.78"/><circle cx="459.9" cy="334.0" r="2.78"/><circle cx="371.7" cy="280.5" r="2.78"/><circle cx="234.3" cy="181.6" r="2.78"/><circle cx="144.3" cy="122.8" r="2.78"/><circle cx="430.6" cy="310.9" r="2.78"/><circle cx="366.7" cy="267.1" r="2.78"/><circle cx="280.5" cy="200.3" r="2.78"/><circle cx="363.3" cy="263.4" r="2.78"/><circle cx="385.8" cy="285.4" r="2.78"/><circle cx="179.9" cy="153.3" r="2.78"/><circle cx="428.8" cy="304.2" r="2.78"/><circle cx="308.3" cy="232.1" r="2.78"/><circle cx="119.3" cy="98.4" r="2.78"/><circle cx="170.7" cy="144.2" r="2.78"/><circle cx="496.8" cy="356.3" r="2.78"/><circle cx="145.7" cy="125.0" r="2.78"/><circle cx="329.7" cy="250.9" r="2.78"/><circle cx="317.6" cy="236.3" r="2.78"/><circle cx="450.1" cy="327.1" r="2.78"/><circle cx="275.0" cy="209.6" r="2.78"/><circle cx="191.2" cy="156.8" r="2.78"/><circle cx="267.5" cy="204.4" r="2.78"/><circle cx="154.6" cy="131.0" r="2.78"/><circle cx="252.1" cy="184.9" r="2.78"/><circle cx="218.1" cy="175.4" r="2.78"/><circle cx="108.9" cy="83.8" r="2.78"/><circle cx="279.3" cy="203.8" r="2.78"/><circle cx="250.7" cy="185.0" r="2.78"/><circle cx="197.2" cy="156.5" r="2.78"/><circle cx="496.5" cy="356.3" r="2.78"/><circle cx="194.9" cy="159.1" r="2.78"/><circle cx="267.3" cy="196.6" r="2.78"/><circle cx="157.5" cy="130.7" r="2.78"/><circle cx="442.0" cy="318.6" r="2.78"/><circle cx="299.6" cy="227.9" r="2.78"/><circle cx="197.9" cy="159.5" r="2.78"/><circle cx="251.1" cy="192.0" r="2.78"/><circle cx="445.8" cy="325.7" r="2.78"/><circle cx="299.2" cy="225.0" r="2.78"/><circle cx="332.7" cy="248.1" r="2.78"/><circle cx="452.1" cy="325.9" r="2.78"/><circle cx="459.2" cy="328.0" r="2.78"/><circle cx="260.7" cy="195.7" r="2.78"/><circle cx="281.6" cy="196.2" r="2.78"/><circle cx="104.5" cy="94.4" r="2.78"/><circle cx="221.0" cy="176.7" r="2.78"/><circle cx="229.6" cy="176.7" r="2.78"/><circle cx="282.6" cy="206.0" r="2.78"/><circle cx="379.1" cy="277.3" r="2.78"/><circle cx="491.8" cy="358.7" r="2.78"/><circle cx="127.2" cy="112.4" r="2.78"/><circle cx="482.2" cy="346.7" r="2.78"/><circle cx="162.1" cy="134.4" r="2.78"/><circle cx="368.2" cy="266.4" r="2.78"/><circle cx="108.2" cy="93.6" r="2.78"/><circle cx="377.7" cy="277.1" r="2.78"/><circle cx="145.8" cy="118.7" r="2.78"/><circle cx="201.1" cy="159.9" r="2.78"/><circle cx="248.3" cy="177.2" r="2.78"/><circle cx="481.5" cy="345.9" r="2.78"/><circle cx="173.6" cy="153.0" r="2.78"/><circle cx="357.8" cy="264.8" r="2.78"/><circle cx="383.0" cy="282.4" r="2.78"/><circle cx="433.0" cy="315.3" r="2.78"/><circle cx="185.9" cy="153.5" r="2.78"/><circle cx="325.4" cy="247.3" r="2.78"/><circle cx="286.8" cy="214.5" r="2.78"/><circle cx="335.5" cy="250.2" r="2.78"/><circle cx="201.3" cy="149.7" r="2.78"/><circle cx="309.6" cy="220.9" r="2.78"/><circle cx="298.7" cy="223.5" r="2.78"/><circle cx="308.9" cy="226.2" r="2.78"/><circle cx="329.0" cy="252.5" r="2.78"/><circle cx="106.1" cy="95.7" r="2.78"/><circle cx="299.1" cy="227.9" r="2.78"/><circle cx="381.6" cy="281.8" r="2.78"/><circle cx="260.2" cy="197.6" r="2.78"/><circle cx="505.1" cy="350.9" r="2.78"/><circle cx="369.8" cy="279.6" r="2.78"/><circle cx="115.3" cy="99.6" r="2.78"/><circle cx="388.9" cy="288.1" r="2.78"/><circle cx="241.6" cy="187.1" r="2.78"/><circle cx="316.9" cy="233.5" r="2.78"/><circle cx="478.8" cy="333.8" r="2.78"/><circle cx="403.8" cy="294.8" r="2.78"/><circle cx="245.0" cy="188.2" r="2.78"/><circle cx="256.5" cy="195.9" r="2.78"/><circle cx="323.2" cy="246.1" r="2.78"/><circle cx="191.5" cy="153.6" r="2.78"/><circle cx="280.0" cy="201.8" r="2.78"/><circle cx="449.1" cy="323.8" r="2.78"/><circle cx="449.6" cy="325.4" r="2.78"/><circle cx="314.1" cy="225.0" r="2.78"/><circle cx="315.2" cy="238.0" r="2.78"/><circle cx="377.1" cy="283.6" r="2.78"/><circle cx="241.8" cy="173.5" r="2.78"/><circle cx="228.5" cy="179.5" r="2.78"/><circle cx="368.9" cy="280.1" r="2.78"/><circle cx="120.1" cy="101.7" r="2.78"/><circle cx="473.8" cy="337.3" r="2.78"/><circle cx="124.2" cy="99.9" r="2.78"/><circle cx="106.0" cy="81.8" r="2.78"/><circle cx="488.8" cy="354.9" r="2.78"/><circle cx="378.6" cy="282.6" r="2.78"/><circle cx="483.9" cy="348.6" r="2.78"/><circle cx="361.3" cy="264.5" r="2.78"/><circle cx="394.6" cy="285.4" r="2.78"/><circle cx="388.2" cy="278.8" r="2.78"/><circle cx="382.3" cy="278.5" r="2.78"/><circle cx="422.4" cy="298.8" r="2.78"/><circle cx="179.2" cy="145.0" r="2.78"/><circle cx="427.3" cy="310.6" r="2.78"/><circle cx="377.6" cy="278.5" r="2.78"/><circle cx="447.4" cy="326.9" r="2.78"/><circle cx="338.5" cy="248.1" r="2.78"/><circle cx="229.7" cy="175.5" r="2.78"/><circle cx="236.6" cy="177.4" r="2.78"/><circle cx="371.8" cy="285.0" r="2.78"/><circle cx="126.2" cy="109.2" r="2.78"/><circle cx="119.9" cy="90.4" r="2.78"/><circle cx="442.3" cy="318.6" r="2.78"/><circle cx="487.6" cy="352.3" r="2.78"/><circle cx="109.3" cy="83.2" r="2.78"/><circle cx="351.0" cy="258.3" r="2.78"/><circle cx="513.6" cy="369.4" r="2.78"/><circle cx="275.9" cy="192.0" r="2.78"/><circle cx="372.9" cy="278.5" r="2.78"/><circle cx="166.9" cy="128.9" r="2.78"/><circle cx="105.4" cy="93.5" r="2.78"/><circle cx="154.3" cy="130.7" r="2.78"/><circle cx="140.2" cy="128.4" r="2.78"/><circle cx="157.3" cy="122.2" r="2.78"/><circle cx="404.2" cy="289.5" r="2.78"/><circle cx="410.2" cy="301.5" r="2.78"/><circle cx="124.4" cy="108.4" r="2.78"/><circle cx="401.8" cy="296.3" r="2.78"/><circle cx="408.6" cy="297.6" r="2.78"/><circle cx="366.3" cy="271.3" r="2.78"/><circle cx="296.0" cy="230.5" r="2.78"/><circle cx="209.6" cy="170.4" r="2.78"/><circle cx="403.3" cy="284.8" r="2.78"/><circle cx="109.5" cy="87.3" r="2.78"/><circle cx="445.2" cy="317.0" r="2.78"/><circle cx="233.5" cy="183.0" r="2.78"/><circle cx="172.8" cy="151.6" r="2.78"/><circle cx="306.8" cy="221.4" r="2.78"/><circle cx="257.1" cy="197.5" r="2.78"/><circle cx="286.9" cy="212.4" r="2.78"/><circle cx="164.0" cy="136.2" r="2.78"/><circle cx="255.3" cy="198.0" r="2.78"/><circle cx="366.7" cy="270.0" r="2.78"/><circle cx="264.7" cy="204.4" r="2.78"/><circle cx="498.6" cy="358.8" r="2.78"/><circle cx="340.4" cy="247.9" r="2.78"/><circle cx="128.7" cy="114.5" r="2.78"/><circle cx="397.5" cy="289.8" r="2.78"/><circle cx="242.3" cy="179.9" r="2.78"/><circle cx="512.2" cy="368.1" r="2.78"/><circle cx="354.8" cy="255.5" r="2.78"/><circle cx="282.6" cy="210.5" r="2.78"/><circle cx="260.9" cy="202.2" r="2.78"/><circle cx="355.1" cy="261.2" r="2.78"/><circle cx="441.1" cy="313.5" r="2.78"/><circle cx="104.1" cy="84.9" r="2.78"/><circle cx="280.1" cy="202.4" r="2.78"/><circle cx="444.7" cy="325.2" r="2.78"/><circle cx="121.1" cy="104.9" r="2.78"/><circle cx="442.9" cy="322.4" r="2.78"/><circle cx="342.6" cy="247.2" r="2.78"/><circle cx="459.4" cy="336.5" r="2.78"/><circle cx="389.7" cy="287.9" r="2.78"/><circle cx="248.4" cy="176.4" r="2.78"/><circle cx="334.9" cy="255.7" r="2.78"/><circle cx="187.2" cy="153.7" r="2.78"/><circle cx="493.1" cy="350.9" r="2.78"/><circle cx="357.2" cy="262.4" r="2.78"/><circle cx="298.0" cy="224.2" r="2.78"/><circle cx="209.9" cy="167.7" r="2.78"/><circle cx="434.5" cy="309.7" r="2.78"/><circle cx="140.1" cy="127.4" r="2.78"/><circle cx="426.3" cy="300.4" r="2.78"/><circle cx="345.8" cy="258.9" r="2.78"/><circle cx="473.6" cy="336.8" r="2.78"/><circle cx="302.7" cy="229.1" r="2.78"/><circle cx="182.5" cy="148.4" r="2.78"/><circle cx="179.0" cy="153.6" r="2.78"/><circle cx="255.1" cy="196.8" r="2.78"/><circle cx="271.7" cy="200.5" r="2.78"/><circle cx="165.7" cy="129.3" r="2.78"/><circle cx="520.4" cy="376.3" r="2.78"/><circle cx="147.8" cy="125.6" r="2.78"/><circle cx="432.7" cy="304.7" r="2.78"/><circle cx="353.2" cy="253.4" r="2.78"/><circle cx="320.6" cy="232.5" r="2.78"/><circle cx="117.4" cy="107.2" r="2.78"/><circle cx="465.6" cy="327.8" r="2.78"/><circle cx="340.6" cy="247.4" r="2.78"/><circle cx="429.3" cy="305.2" r="2.78"/><circle cx="499.2" cy="358.6" r="2.78"/><circle cx="445.8" cy="327.3" r="2.78"/><circle cx="209.6" cy="155.8" r="2.78"/><circle cx="187.4" cy="147.3" r="2.78"/><circle cx="138.4" cy="116.2" r="2.78"/><circle cx="336.5" cy="256.5" r="2.78"/><circle cx="295.1" cy="230.1" r="2.78"/><circle cx="483.9" cy="339.9" r="2.78"/><circle cx="353.5" cy="254.5" r="2.78"/><circle cx="153.5" cy="130.5" r="2.78"/><circle cx="210.9" cy="167.7" r="2.78"/><circle cx="371.3" cy="285.0" r="2.78"/><circle cx="383.5" cy="279.0" r="2.78"/><circle cx="290.9" cy="213.9" r="2.78"/><circle cx="507.3" cy="362.9" r="2.78"/><circle cx="196.1" cy="148.2" r="2.78"/><circle cx="210.4" cy="163.2" r="2.78"/><circle cx="480.9" cy="346.3" r="2.78"/><circle cx="453.5" cy="322.1" r="2.78"/><circle cx="432.3" cy="312.6" r="2.78"/><circle cx="373.9" cy="286.3" r="2.78"/><circle cx="126.7" cy="105.0" r="2.78"/><circle cx="419.1" cy="305.9" r="2.78"/><circle cx="386.5" cy="279.7" r="2.78"/><circle cx="350.8" cy="256.3" r="2.78"/><circle cx="147.5" cy="121.1" r="2.78"/><circle cx="210.9" cy="161.8" r="2.78"/><circle cx="304.7" cy="223.3" r="2.78"/><circle cx="203.1" cy="149.5" r="2.78"/><circle cx="386.8" cy="276.9" r="2.78"/><circle cx="403.4" cy="287.6" r="2.78"/><circle cx="118.4" cy="105.8" r="2.78"/><circle cx="195.6" cy="160.4" r="2.78"/><circle cx="465.9" cy="332.0" r="2.78"/><circle cx="161.8" cy="129.1" r="2.78"/><circle cx="143.9" cy="130.3" r="2.78"/><circle cx="455.6" cy="326.0" r="2.78"/><circle cx="292.6" cy="219.1" r="2.78"/><circle cx="447.6" cy="323.9" r="2.78"/><circle cx="366.1" cy="264.1" r="2.78"/><circle cx="196.1" cy="148.4" r="2.78"/><circle cx="401.9" cy="291.5" r="2.78"/><circle cx="163.9" cy="137.2" r="2.78"/><circle cx="214.8" cy="171.2" r="2.78"/><circle cx="168.5" cy="133.2" r="2.78"/><circle cx="454.5" cy="323.9" r="2.78"/><circle cx="173.6" cy="146.1" r="2.78"/><circle cx="236.4" cy="186.4" r="2.78"/><circle cx="151.1" cy="130.6" r="2.78"/><circle cx="127.2" cy="113.0" r="2.78"/><circle cx="382.9" cy="277.0" r="2.78"/><circle cx="303.1" cy="225.0" r="2.78"/><circle cx="211.2" cy="163.9" r="2.78"/><circle cx="255.7" cy="203.2" r="2.78"/><circle cx="520.8" cy="381.8" r="2.78"/><circle cx="144.2" cy="120.9" r="2.78"/><circle cx="478.2" cy="333.2" r="2.78"/><circle cx="407.2" cy="296.8" r="2.78"/><circle cx="512.7" cy="359.7" r="2.78"/><circle cx="440.9" cy="313.8" r="2.78"/><circle cx="162.0" cy="123.3" r="2.78"/><circle cx="451.5" cy="327.7" r="2.78"/><circle cx="181.1" cy="151.0" r="2.78"/><circle cx="484.8" cy="343.1" r="2.78"/><circle cx="342.3" cy="245.0" r="2.78"/><circle cx="178.7" cy="154.4" r="2.78"/><circle cx="401.0" cy="284.4" r="2.78"/><circle cx="136.5" cy="112.7" r="2.78"/><circle cx="357.9" cy="260.9" r="2.78"/><circle cx="217.9" cy="172.9" r="2.78"/><circle cx="359.5" cy="264.5" r="2.78"/><circle cx="442.8" cy="319.4" r="2.78"/><circle cx="188.0" cy="145.9" r="2.78"/><circle cx="409.8" cy="303.5" r="2.78"/><circle cx="405.2" cy="288.2" r="2.78"/><circle cx="442.4" cy="316.3" r="2.78"/><circle cx="455.5" cy="328.2" r="2.78"/><circle cx="309.6" cy="220.4" r="2.78"/><circle cx="484.1" cy="346.6" r="2.78"/><circle cx="468.1" cy="326.0" r="2.78"/><circle cx="181.2" cy="156.1" r="2.78"/><circle cx="256.9" cy="191.1" r="2.78"/><circle cx="258.6" cy="198.7" r="2.78"/><circle cx="105.3" cy="89.8" r="2.78"/><circle cx="289.8" cy="215.0" r="2.78"/><circle cx="153.9" cy="126.4" r="2.78"/><circle cx="444.9" cy="325.3" r="2.78"/><circle cx="237.6" cy="182.2" r="2.78"/><circle cx="262.9" cy="204.1" r="2.78"/><circle cx="129.0" cy="113.5" r="2.78"/><circle cx="502.4" cy="356.0" r="2.78"/><circle cx="318.1" cy="235.4" r="2.78"/><circle cx="328.1" cy="238.3" r="2.78"/><circle cx="508.0" cy="356.2" r="2.78"/><circle cx="179.7" cy="146.1" r="2.78"/><circle cx="208.1" cy="165.3" r="2.78"/><circle cx="116.0" cy="91.7" r="2.78"/><circle cx="395.7" cy="281.1" r="2.78"/><circle cx="110.8" cy="87.9" r="2.78"/><circle cx="344.5" cy="251.4" r="2.78"/><circle cx="397.3" cy="278.9" r="2.78"/><circle cx="467.1" cy="330.3" r="2.78"/><circle cx="122.3" cy="93.3" r="2.78"/><circle cx="309.8" cy="226.6" r="2.78"/><circle cx="220.3" cy="175.1" r="2.78"/><circle cx="273.0" cy="193.1" r="2.78"/><circle cx="350.9" cy="257.5" r="2.78"/><circle cx="165.0" cy="135.5" r="2.78"/><circle cx="415.6" cy="295.6" r="2.78"/><circle cx="448.9" cy="329.8" r="2.78"/><circle cx="266.0" cy="199.2" r="2.78"/><circle cx="454.6" cy="325.6" r="2.78"/><circle cx="268.8" cy="206.9" r="2.78"/><circle cx="428.3" cy="302.9" r="2.78"/><circle cx="203.9" cy="152.2" r="2.78"/><circle cx="285.6" cy="214.7" r="2.78"/><circle cx="439.8" cy="318.2" r="2.78"/><circle cx="444.3" cy="324.2" r="2.78"/><circle cx="125.8" cy="108.0" r="2.78"/><circle cx="504.0" cy="360.9" r="2.78"/><circle cx="207.6" cy="157.3" r="2.78"/><circle cx="368.0" cy="271.6" r="2.78"/><circle cx="325.4" cy="236.5" r="2.78"/><circle cx="284.5" cy="206.7" r="2.78"/><circle cx="112.1" cy="84.9" r="2.78"/><circle cx="508.9" cy="362.1" r="2.78"/><circle cx="495.2" cy="356.8" r="2.78"/><circle cx="441.8" cy="321.0" r="2.78"/><circle cx="473.4" cy="329.2" r="2.78"/><circle cx="371.7" cy="278.7" r="2.78"/><circle cx="387.1" cy="279.6" r="2.78"/><circle cx="330.2" cy="254.5" r="2.78"/><circle cx="363.2" cy="261.5" r="2.78"/><circle cx="321.0" cy="238.2" r="2.78"/><circle cx="501.1" cy="354.0" r="2.78"/><circle cx="231.1" cy="179.5" r="2.78"/><circle cx="153.7" cy="124.3" r="2.78"/><circle cx="503.3" cy="356.2" r="2.78"/><circle cx="215.6" cy="172.7" r="2.78"/><circle cx="326.6" cy="238.6" r="2.78"/><circle cx="155.2" cy="119.3" r="2.78"/><circle cx="226.2" cy="178.8" r="2.78"/><circle cx="224.0" cy="177.6" r="2.78"/><circle cx="140.1" cy="123.7" r="2.78"/><circle cx="454.6" cy="326.4" r="2.78"/><circle cx="341.9" cy="253.3" r="2.78"/><circle cx="187.5" cy="153.2" r="2.78"/><circle cx="296.1" cy="226.5" r="2.78"/><circle cx="359.7" cy="261.2" r="2.78"/><circle cx="233.2" cy="174.7" r="2.78"/><circle cx="196.1" cy="154.4" r="2.78"/><circle cx="263.6" cy="201.5" r="2.78"/><circle cx="108.3" cy="82.7" r="2.78"/><circle cx="463.8" cy="324.9" r="2.78"/><circle cx="336.2" cy="252.3" r="2.78"/><circle cx="222.5" cy="186.8" r="2.78"/><circle cx="227.0" cy="184.2" r="2.78"/><circle cx="169.7" cy="131.5" r="2.78"/><circle cx="467.8" cy="327.5" r="2.78"/><circle cx="129.3" cy="108.5" r="2.78"/><circle cx="287.4" cy="213.4" r="2.78"/><circle cx="149.1" cy="119.4" r="2.78"/><circle cx="504.6" cy="358.7" r="2.78"/><circle cx="168.0" cy="134.2" r="2.78"/><circle cx="250.8" cy="192.0" r="2.78"/><circle cx="361.1" cy="267.3" r="2.78"/><circle cx="446.8" cy="323.5" r="2.78"/><circle cx="412.4" cy="304.8" r="2.78"/><circle cx="421.1" cy="302.3" r="2.78"/><circle cx="431.7" cy="312.0" r="2.78"/><circle cx="485.9" cy="343.1" r="2.78"/><circle cx="467.6" cy="323.0" r="2.78"/><circle cx="423.6" cy="304.1" r="2.78"/><circle cx="311.6" cy="234.3" r="2.78"/><circle cx="342.6" cy="249.5" r="2.78"/><circle cx="431.1" cy="313.9" r="2.78"/><circle cx="357.4" cy="258.7" r="2.78"/><circle cx="292.5" cy="220.2" r="2.78"/><circle cx="405.8" cy="293.1" r="2.78"/><circle cx="266.8" cy="201.3" r="2.78"/><circle cx="264.2" cy="197.3" r="2.78"/><circle cx="432.6" cy="315.0" r="2.78"/><circle cx="312.3" cy="226.7" r="2.78"/><circle cx="180.4" cy="149.0" r="2.78"/><circle cx="164.0" cy="133.1" r="2.78"/><circle cx="346.6" cy="247.0" r="2.78"/><circle cx="488.2" cy="350.6" r="2.78"/><circle cx="456.1" cy="329.2" r="2.78"/><circle cx="504.4" cy="352.6" r="2.78"/><circle cx="281.7" cy="209.8" r="2.78"/><circle cx="107.9" cy="77.2" r="2.78"/><circle cx="339.7" cy="251.2" r="2.78"/><circle cx="488.3" cy="357.3" r="2.78"/><circle cx="328.6" cy="254.2" r="2.78"/><circle cx="319.8" cy="237.3" r="2.78"/><circle cx="390.0" cy="280.7" r="2.78"/><circle cx="253.0" cy="194.7" r="2.78"/><circle cx="250.2" cy="195.3" r="2.78"/><circle cx="386.3" cy="281.9" r="2.78"/><circle cx="144.8" cy="122.2" r="2.78"/><circle cx="271.0" cy="201.3" r="2.78"/><circle cx="343.5" cy="257.5" r="2.78"/><circle cx="506.8" cy="357.2" r="2.78"/><circle cx="287.5" cy="212.5" r="2.78"/><circle cx="520.0" cy="375.8" r="2.78"/><circle cx="325.1" cy="248.3" r="2.78"/><circle cx="174.8" cy="145.2" r="2.78"/><circle cx="512.6" cy="370.0" r="2.78"/><circle cx="317.8" cy="229.8" r="2.78"/><circle cx="477.5" cy="339.7" r="2.78"/><circle cx="446.6" cy="328.3" r="2.78"/><circle cx="474.8" cy="335.2" r="2.78"/><circle cx="168.8" cy="133.7" r="2.78"/><circle cx="317.4" cy="234.3" r="2.78"/><circle cx="182.1" cy="148.1" r="2.78"/><circle cx="366.9" cy="273.9" r="2.78"/><circle cx="251.1" cy="197.8" r="2.78"/><circle cx="369.6" cy="270.6" r="2.78"/><circle cx="275.5" cy="206.0" r="2.78"/><circle cx="231.7" cy="180.7" r="2.78"/><circle cx="105.0" cy="85.0" r="2.78"/><circle cx="455.6" cy="325.5" r="2.78"/><circle cx="382.8" cy="276.8" r="2.78"/><circle cx="311.6" cy="228.1" r="2.78"/><circle cx="214.6" cy="173.7" r="2.78"/><circle cx="325.7" cy="251.7" r="2.78"/><circle cx="343.6" cy="249.3" r="2.78"/><circle cx="154.2" cy="116.8" r="2.78"/><circle cx="421.0" cy="298.8" r="2.78"/><circle cx="145.2" cy="119.2" r="2.78"/><circle cx="321.9" cy="244.8" r="2.78"/><circle cx="359.8" cy="266.1" r="2.78"/><circle cx="129.4" cy="104.4" r="2.78"/><circle cx="425.7" cy="301.5" r="2.78"/><circle cx="402.6" cy="289.2" r="2.78"/><circle cx="174.2" cy="143.4" r="2.78"/><circle cx="145.0" cy="129.9" r="2.78"/><circle cx="346.9" cy="251.2" r="2.78"/><circle cx="291.5" cy="217.3" r="2.78"/><circle cx="126.2" cy="112.6" r="2.78"/><circle cx="347.1" cy="259.8" r="2.78"/><circle cx="287.3" cy="212.2" r="2.78"/><circle cx="207.7" cy="151.4" r="2.78"/><circle cx="492.7" cy="358.8" r="2.78"/><circle cx="235.0" cy="186.1" r="2.78"/><circle cx="444.6" cy="318.8" r="2.78"/><circle cx="355.4" cy="262.4" r="2.78"/><circle cx="310.6" cy="233.2" r="2.78"/><circle cx="205.0" cy="152.9" r="2.78"/><circle cx="403.9" cy="288.7" r="2.78"/><circle cx="232.7" cy="184.9" r="2.78"/><circle cx="306.0" cy="231.5" r="2.78"/><circle cx="205.2" cy="150.4" r="2.78"/><circle cx="253.3" cy="189.4" r="2.78"/><circle cx="509.7" cy="358.8" r="2.78"/><circle cx="338.2" cy="246.3" r="2.78"/><circle cx="326.6" cy="242.5" r="2.78"/><circle cx="272.0" cy="192.2" r="2.78"/><circle cx="154.9" cy="128.7" r="2.78"/><circle cx="250.3" cy="183.8" r="2.78"/><circle cx="183.3" cy="149.7" r="2.78"/><circle cx="202.6" cy="148.0" r="2.78"/><circle cx="381.2" cy="276.9" r="2.78"/><circle cx="168.6" cy="140.6" r="2.78"/><circle cx="142.1" cy="120.3" r="2.78"/><circle cx="452.6" cy="323.6" r="2.78"/><circle cx="288.8" cy="215.7" r="2.78"/><circle cx="440.0" cy="310.3" r="2.78"/><circle cx="251.0" cy="193.2" r="2.78"/><circle cx="261.0" cy="206.2" r="2.78"/><circle cx="190.4" cy="159.5" r="2.78"/><circle cx="314.5" cy="225.5" r="2.78"/><circle cx="292.7" cy="217.3" r="2.78"/><circle cx="398.9" cy="280.8" r="2.78"/><circle cx="479.6" cy="341.1" r="2.78"/><circle cx="257.3" cy="192.4" r="2.78"/><circle cx="357.8" cy="256.8" r="2.78"/><circle cx="468.2" cy="324.9" r="2.78"/><circle cx="317.9" cy="235.4" r="2.78"/><circle cx="216.5" cy="177.2" r="2.78"/><circle cx="264.3" cy="202.4" r="2.78"/><circle cx="340.8" cy="248.1" r="2.78"/><circle cx="266.5" cy="194.5" r="2.78"/><circle cx="177.4" cy="155.0" r="2.78"/><circle cx="237.7" cy="181.3" r="2.78"/><circle cx="149.0" cy="124.4" r="2.78"/><circle cx="254.6" cy="195.7" r="2.78"/><circle cx="227.6" cy="170.4" r="2.78"/><circle cx="233.6" cy="175.0" r="2.78"/><circle cx="156.1" cy="129.1" r="2.78"/><circle cx="221.5" cy="178.7" r="2.78"/><circle cx="483.5" cy="350.2" r="2.78"/><circle cx="472.6" cy="341.3" r="2.78"/><circle cx="158.7" cy="125.6" r="2.78"/><circle cx="115.7" cy="101.3" r="2.78"/><circle cx="380.9" cy="276.9" r="2.78"/><circle cx="275.9" cy="203.3" r="2.78"/><circle cx="395.8" cy="281.7" r="2.78"/><circle cx="457.5" cy="326.5" r="2.78"/><circle cx="366.4" cy="265.1" r="2.78"/><circle cx="151.6" cy="129.6" r="2.78"/><circle cx="410.4" cy="306.3" r="2.78"/><circle cx="120.3" cy="88.7" r="2.78"/><circle cx="171.1" cy="135.9" r="2.78"/><circle cx="230.1" cy="174.4" r="2.78"/><circle cx="119.8" cy="94.0" r="2.78"/><circle cx="370.3" cy="275.0" r="2.78"/><circle cx="454.5" cy="326.1" r="2.78"/><circle cx="403.1" cy="288.3" r="2.78"/><circle cx="285.3" cy="210.5" r="2.78"/><circle cx="249.4" cy="177.3" r="2.78"/><circle cx="452.3" cy="329.2" r="2.78"/><circle cx="223.1" cy="174.6" r="2.78"/><circle cx="460.6" cy="332.2" r="2.78"/><circle cx="123.2" cy="97.2" r="2.78"/><circle cx="149.9" cy="127.7" r="2.78"/><circle cx="191.3" cy="160.2" r="2.78"/><circle cx="416.9" cy="294.7" r="2.78"/><circle cx="393.9" cy="282.1" r="2.78"/><circle cx="416.0" cy="303.4" r="2.78"/><circle cx="221.0" cy="174.8" r="2.78"/><circle cx="499.2" cy="355.6" r="2.78"/><circle cx="492.4" cy="356.6" r="2.78"/><circle cx="412.3" cy="305.8" r="2.78"/><circle cx="366.1" cy="267.7" r="2.78"/><circle cx="126.1" cy="110.5" r="2.78"/><circle cx="282.5" cy="203.6" r="2.78"/><circle cx="491.6" cy="348.7" r="2.78"/><circle cx="422.0" cy="298.3" r="2.78"/><circle cx="397.3" cy="289.4" r="2.78"/><circle cx="212.6" cy="170.6" r="2.78"/><circle cx="508.8" cy="360.8" r="2.78"/><circle cx="330.9" cy="246.0" r="2.78"/><circle cx="128.2" cy="107.8" r="2.78"/><circle cx="275.5" cy="193.9" r="2.78"/><circle cx="233.3" cy="173.0" r="2.78"/><circle cx="399.1" cy="288.2" r="2.78"/><circle cx="202.9" cy="151.0" r="2.78"/><circle cx="318.9" cy="235.4" r="2.78"/><circle cx="494.8" cy="353.5" r="2.78"/><circle cx="228.6" cy="185.0" r="2.78"/><circle cx="162.7" cy="131.2" r="2.78"/><circle cx="242.9" cy="185.2" r="2.78"/><circle cx="332.7" cy="254.6" r="2.78"/><circle cx="174.2" cy="149.9" r="2.78"/><circle cx="353.8" cy="255.5" r="2.78"/><circle cx="423.8" cy="306.9" r="2.78"/><circle cx="151.3" cy="119.8" r="2.78"/><circle cx="254.1" cy="191.4" r="2.78"/><circle cx="128.6" cy="107.1" r="2.78"/><circle cx="185.8" cy="153.6" r="2.78"/><circle cx="290.8" cy="213.1" r="2.78"/><circle cx="239.1" cy="176.7" r="2.78"/><circle cx="255.2" cy="191.4" r="2.78"/><circle cx="133.4" cy="106.7" r="2.78"/><circle cx="518.3" cy="380.9" r="2.78"/><circle cx="138.5" cy="125.3" r="2.78"/><circle cx="513.3" cy="370.7" r="2.78"/><circle cx="148.9" cy="123.3" r="2.78"/><circle cx="285.0" cy="203.2" r="2.78"/><circle cx="330.5" cy="241.8" r="2.78"/><circle cx="488.0" cy="355.4" r="2.78"/><circle cx="365.9" cy="273.2" r="2.78"/><circle cx="376.3" cy="278.3" r="2.78"/><circle cx="206.3" cy="150.7" r="2.78"/><circle cx="115.0" cy="101.5" r="2.78"/><circle cx="454.5" cy="323.5" r="2.78"/><circle cx="181.1" cy="153.6" r="2.78"/><circle cx="457.1" cy="332.5" r="2.78"/><circle cx="173.8" cy="151.5" r="2.78"/><circle cx="450.7" cy="329.6" r="2.78"/><circle cx="240.0" cy="170.8" r="2.78"/><circle cx="448.6" cy="323.4" r="2.78"/><circle cx="257.5" cy="197.3" r="2.78"/><circle cx="257.8" cy="201.9" r="2.78"/><circle cx="203.5" cy="148.0" r="2.78"/><circle cx="340.5" cy="253.0" r="2.78"/><circle cx="446.2" cy="324.9" r="2.78"/><circle cx="482.0" cy="348.1" r="2.78"/><circle cx="310.1" cy="226.7" r="2.78"/><circle cx="169.2" cy="134.6" r="2.78"/><circle cx="346.4" cy="246.6" r="2.78"/><circle cx="391.1" cy="277.1" r="2.78"/><circle cx="288.7" cy="216.7" r="2.78"/><circle cx="140.9" cy="116.7" r="2.78"/><circle cx="287.2" cy="207.8" r="2.78"/><circle cx="405.7" cy="289.1" r="2.78"/><circle cx="455.0" cy="328.4" r="2.78"/><circle cx="432.5" cy="308.6" r="2.78"/><circle cx="221.8" cy="182.1" r="2.78"/><circle cx="318.6" cy="234.7" r="2.78"/><circle cx="245.0" cy="178.6" r="2.78"/><circle cx="382.0" cy="281.5" r="2.78"/><circle cx="481.5" cy="339.2" r="2.78"/><circle cx="227.1" cy="178.1" r="2.78"/><circle cx="339.0" cy="249.1" r="2.78"/><circle cx="185.1" cy="147.2" r="2.78"/><circle cx="238.8" cy="176.6" r="2.78"/><circle cx="509.6" cy="363.5" r="2.78"/><circle cx="465.3" cy="332.9" r="2.78"/><circle cx="505.7" cy="357.4" r="2.78"/><circle cx="442.6" cy="313.8" r="2.78"/><circle cx="386.3" cy="282.7" r="2.78"/><circle cx="227.6" cy="179.8" r="2.78"/><circle cx="501.9" cy="355.9" r="2.78"/><circle cx="374.1" cy="279.6" r="2.78"/><circle cx="247.0" cy="190.0" r="2.78"/><circle cx="115.0" cy="92.7" r="2.78"/><circle cx="387.2" cy="281.5" r="2.78"/><circle cx="139.0" cy="124.9" r="2.78"/><circle cx="259.0" cy="198.8" r="2.78"/><circle cx="277.5" cy="200.7" r="2.78"/><circle cx="339.6" cy="249.7" r="2.78"/><circle cx="151.2" cy="118.1" r="2.78"/><circle cx="475.6" cy="337.4" r="2.78"/><circle cx="150.3" cy="128.7" r="2.78"/><circle cx="209.4" cy="155.9" r="2.78"/><circle cx="325.4" cy="239.4" r="2.78"/><circle cx="308.0" cy="227.2" r="2.78"/><circle cx="198.1" cy="154.7" r="2.78"/><circle cx="150.6" cy="123.4" r="2.78"/><circle cx="349.5" cy="248.9" r="2.78"/><circle cx="274.0" cy="191.3" r="2.78"/><circle cx="287.2" cy="214.6" r="2.78"/><circle cx="333.6" cy="254.9" r="2.78"/><circle cx="419.9" cy="297.9" r="2.78"/><circle cx="517.7" cy="380.7" r="2.78"/><circle cx="146.1" cy="128.7" r="2.78"/><circle cx="267.3" cy="196.0" r="2.78"/><circle cx="504.9" cy="356.7" r="2.78"/><circle cx="427.5" cy="299.1" r="2.78"/><circle cx="428.0" cy="298.4" r="2.78"/><circle cx="202.5" cy="153.1" r="2.78"/><circle cx="109.7" cy="86.4" r="2.78"/><circle cx="192.5" cy="153.0" r="2.78"/><circle cx="399.3" cy="284.5" r="2.78"/><circle cx="475.0" cy="338.3" r="2.78"/><circle cx="468.1" cy="329.2" r="2.78"/><circle cx="487.1" cy="358.5" r="2.78"/><circle cx="173.6" cy="150.6" r="2.78"/><circle cx="246.2" cy="186.9" r="2.78"/><circle cx="388.0" cy="286.2" r="2.78"/><circle cx="154.7" cy="121.3" r="2.78"/><circle cx="411.7" cy="307.4" r="2.78"/><circle cx="405.3" cy="288.2" r="2.78"/><circle cx="355.9" cy="254.3" r="2.78"/><circle cx="332.9" cy="255.2" r="2.78"/><circle cx="150.6" cy="129.7" r="2.78"/><circle cx="385.8" cy="279.0" r="2.78"/><circle cx="184.2" cy="151.4" r="2.78"/><circle cx="453.9" cy="326.5" r="2.78"/><circle cx="150.9" cy="115.8" r="2.78"/><circle cx="149.6" cy="127.8" r="2.78"/><circle cx="180.9" cy="152.4" r="2.78"/><circle cx="224.7" cy="184.5" r="2.78"/><circle cx="262.7" cy="195.3" r="2.78"/><circle cx="469.5" cy="333.1" r="2.78"/><circle cx="391.8" cy="286.5" r="2.78"/><circle cx="500.2" cy="351.6" r="2.78"/><circle cx="246.6" cy="174.4" r="2.78"/><circle cx="313.2" cy="234.3" r="2.78"/><circle cx="438.2" cy="306.2" r="2.78"/><circle cx="179.6" cy="155.4" r="2.78"/><circle cx="387.6" cy="280.9" r="2.78"/><circle cx="302.4" cy="223.2" r="2.78"/><circle cx="456.8" cy="325.8" r="2.78"/><circle cx="468.5" cy="330.9" r="2.78"/><circle cx="135.1" cy="113.9" r="2.78"/><circle cx="193.9" cy="161.4" r="2.78"/><circle cx="349.8" cy="248.6" r="2.78"/><circle cx="174.4" cy="145.2" r="2.78"/><circle cx="299.0" cy="228.0" r="2.78"/><circle cx="265.6" cy="198.1" r="2.78"/><circle cx="105.9" cy="90.5" r="2.78"/><circle cx="243.0" cy="167.1" r="2.78"/><circle cx="295.5" cy="230.8" r="2.78"/><circle cx="122.4" cy="93.9" r="2.78"/><circle cx="384.0" cy="278.5" r="2.78"/><circle cx="217.7" cy="175.9" r="2.78"/><circle cx="213.0" cy="171.2" r="2.78"/><circle cx="324.3" cy="249.9" r="2.78"/><circle cx="518.4" cy="370.5" r="2.78"/><circle cx="337.9" cy="255.3" r="2.78"/><circle cx="468.2" cy="331.8" r="2.78"/><circle cx="368.2" cy="276.4" r="2.78"/><circle cx="255.2" cy="192.9" r="2.78"/><circle cx="436.0" cy="314.9" r="2.78"/><circle cx="496.0" cy="357.5" r="2.78"/><circle cx="230.5" cy="181.8" r="2.78"/><circle cx="412.7" cy="302.1" r="2.78"/><circle cx="369.1" cy="273.7" r="2.78"/><circle cx="333.7" cy="252.5" r="2.78"/><circle cx="128.7" cy="107.7" r="2.78"/><circle cx="238.6" cy="187.4" r="2.78"/><circle cx="304.7" cy="226.2" r="2.78"/><circle cx="205.2" cy="151.1" r="2.78"/><circle cx="249.4" cy="179.8" r="2.78"/><circle cx="106.4" cy="95.8" r="2.78"/><circle cx="292.9" cy="220.8" r="2.78"/><circle cx="341.2" cy="247.9" r="2.78"/><circle cx="174.0" cy="139.7" r="2.78"/><circle cx="229.5" cy="173.5" r="2.78"/><circle cx="407.3" cy="299.9" r="2.78"/><circle cx="495.5" cy="353.8" r="2.78"/><circle cx="488.7" cy="354.6" r="2.78"/><circle cx="136.9" cy="114.7" r="2.78"/><circle cx="346.2" cy="260.5" r="2.78"/><circle cx="252.7" cy="196.9" r="2.78"/><circle cx="282.5" cy="210.0" r="2.78"/><circle cx="131.7" cy="111.0" r="2.78"/><circle cx="479.4" cy="337.4" r="2.78"/><circle cx="211.1" cy="161.4" r="2.78"/><circle cx="172.2" cy="139.9" r="2.78"/><circle cx="398.0" cy="280.3" r="2.78"/><circle cx="270.5" cy="195.3" r="2.78"/><circle cx="355.5" cy="261.7" r="2.78"/><circle cx="374.4" cy="278.7" r="2.78"/><circle cx="410.3" cy="308.8" r="2.78"/><circle cx="354.8" cy="253.3" r="2.78"/><circle cx="441.9" cy="321.1" r="2.78"/><circle cx="246.1" cy="173.4" r="2.78"/><circle cx="182.1" cy="152.4" r="2.78"/><circle cx="469.5" cy="334.4" r="2.78"/><circle cx="489.4" cy="349.3" r="2.78"/><circle cx="240.0" cy="182.2" r="2.78"/><circle cx="374.8" cy="280.8" r="2.78"/><circle cx="387.3" cy="280.3" r="2.78"/><circle cx="127.4" cy="108.1" r="2.78"/><circle cx="122.4" cy="102.9" r="2.78"/><circle cx="243.3" cy="178.2" r="2.78"/><circle cx="353.4" cy="252.8" r="2.78"/><circle cx="297.2" cy="222.1" r="2.78"/><circle cx="490.4" cy="354.5" r="2.78"/><circle cx="516.4" cy="368.7" r="2.78"/><circle cx="360.2" cy="265.1" r="2.78"/><circle cx="241.1" cy="168.8" r="2.78"/><circle cx="168.7" cy="131.1" r="2.78"/><circle cx="424.2" cy="298.6" r="2.78"/><circle cx="443.8" cy="319.1" r="2.78"/><circle cx="328.7" cy="247.9" r="2.78"/><circle cx="335.5" cy="254.2" r="2.78"/><circle cx="355.0" cy="256.0" r="2.78"/><circle cx="413.3" cy="298.9" r="2.78"/><circle cx="400.9" cy="293.2" r="2.78"/><circle cx="427.9" cy="302.1" r="2.78"/><circle cx="426.5" cy="310.8" r="2.78"/><circle cx="292.9" cy="219.1" r="2.78"/><circle cx="322.3" cy="247.1" r="2.78"/><circle cx="158.5" cy="122.5" r="2.78"/><circle cx="302.4" cy="229.8" r="2.78"/><circle cx="427.2" cy="302.4" r="2.78"/><circle cx="517.2" cy="372.5" r="2.78"/><circle cx="419.8" cy="297.5" r="2.78"/><circle cx="115.1" cy="91.9" r="2.78"/><circle cx="128.5" cy="109.4" r="2.78"/><circle cx="335.6" cy="249.3" r="2.78"/><circle cx="496.4" cy="354.7" r="2.78"/><circle cx="165.8" cy="131.0" r="2.78"/><circle cx="411.9" cy="307.0" r="2.78"/><circle cx="171.2" cy="133.4" r="2.78"/><circle cx="428.8" cy="302.0" r="2.78"/><circle cx="514.2" cy="371.3" r="2.78"/><circle cx="369.4" cy="274.5" r="2.78"/><circle cx="438.2" cy="310.9" r="2.78"/><circle cx="238.8" cy="185.6" r="2.78"/><circle cx="148.5" cy="126.9" r="2.78"/><circle cx="130.7" cy="111.8" r="2.78"/><circle cx="271.5" cy="206.6" r="2.78"/><circle cx="128.5" cy="110.0" r="2.78"/><circle cx="274.8" cy="208.9" r="2.78"/><circle cx="498.6" cy="357.5" r="2.78"/><circle cx="197.1" cy="150.5" r="2.78"/><circle cx="213.1" cy="169.8" r="2.78"/><circle cx="200.2" cy="150.4" r="2.78"/><circle cx="420.9" cy="303.8" r="2.78"/><circle cx="228.2" cy="187.3" r="2.78"/><circle cx="194.0" cy="156.5" r="2.78"/><circle cx="168.9" cy="143.6" r="2.78"/><circle cx="466.9" cy="325.6" r="2.78"/><circle cx="417.7" cy="304.0" r="2.78"/><circle cx="221.6" cy="177.9" r="2.78"/><circle cx="306.5" cy="232.5" r="2.78"/><circle cx="171.0" cy="143.1" r="2.78"/><circle cx="353.3" cy="254.8" r="2.78"/><circle cx="345.6" cy="258.5" r="2.78"/><circle cx="191.1" cy="159.5" r="2.78"/><circle cx="254.1" cy="198.8" r="2.78"/><circle cx="464.5" cy="324.4" r="2.78"/><circle cx="464.7" cy="333.2" r="2.78"/><circle cx="227.8" cy="169.4" r="2.78"/><circle cx="150.0" cy="130.4" r="2.78"/><circle cx="107.3" cy="94.6" r="2.78"/><circle cx="166.5" cy="139.1" r="2.78"/><circle cx="144.2" cy="119.1" r="2.78"/><circle cx="388.9" cy="277.0" r="2.78"/><circle cx="245.4" cy="189.7" r="2.78"/><circle cx="403.0" cy="298.0" r="2.78"/><circle cx="513.1" cy="360.5" r="2.78"/><circle cx="201.5" cy="160.2" r="2.78"/><circle cx="391.7" cy="274.9" r="2.78"/><circle cx="314.5" cy="225.5" r="2.78"/><circle cx="283.4" cy="198.0" r="2.78"/><circle cx="111.7" cy="97.2" r="2.78"/><circle cx="235.7" cy="185.9" r="2.78"/><circle cx="153.8" cy="122.5" r="2.78"/><circle cx="160.2" cy="128.1" r="2.78"/><circle cx="178.2" cy="153.0" r="2.78"/><circle cx="165.3" cy="137.8" r="2.78"/><circle cx="312.8" cy="221.3" r="2.78"/><circle cx="251.3" cy="190.2" r="2.78"/><circle cx="487.6" cy="350.9" r="2.78"/><circle cx="193.4" cy="162.9" r="2.78"/><circle cx="472.8" cy="339.5" r="2.78"/><circle cx="217.5" cy="172.1" r="2.78"/><circle cx="214.1" cy="166.8" r="2.78"/><circle cx="121.4" cy="99.2" r="2.78"/><circle cx="274.1" cy="201.2" r="2.78"/><circle cx="255.0" cy="189.2" r="2.78"/><circle cx="391.2" cy="284.2" r="2.78"/><circle cx="330.9" cy="250.1" r="2.78"/><circle cx="392.1" cy="289.2" r="2.78"/><circle cx="469.0" cy="333.5" r="2.78"/><circle cx="270.4" cy="197.2" r="2.78"/><circle cx="278.7" cy="207.8" r="2.78"/><circle cx="265.3" cy="198.5" r="2.78"/><circle cx="274.8" cy="192.4" r="2.78"/><circle cx="520.9" cy="373.1" r="2.78"/><circle cx="357.6" cy="266.4" r="2.78"/><circle cx="209.9" cy="165.5" r="2.78"/><circle cx="261.0" cy="195.9" r="2.78"/><circle cx="186.4" cy="147.0" r="2.78"/><circle cx="456.0" cy="328.3" r="2.78"/><circle cx="483.4" cy="339.3" r="2.78"/><circle cx="393.7" cy="280.9" r="2.78"/><circle cx="373.7" cy="281.9" r="2.78"/><circle cx="235.4" cy="187.5" r="2.78"/><circle cx="103.8" cy="94.9" r="2.78"/><circle cx="460.3" cy="331.1" r="2.78"/><circle cx="351.1" cy="259.0" r="2.78"/><circle cx="201.4" cy="157.6" r="2.78"/><circle cx="414.3" cy="299.2" r="2.78"/><circle cx="401.2" cy="288.0" r="2.78"/><circle cx="323.5" cy="243.9" r="2.78"/><circle cx="386.6" cy="280.0" r="2.78"/><circle cx="366.4" cy="270.0" r="2.78"/><circle cx="196.8" cy="155.3" r="2.78"/><circle cx="214.2" cy="176.1" r="2.78"/><circle cx="301.3" cy="230.3" r="2.78"/><circle cx="321.7" cy="239.7" r="2.78"/><circle cx="195.9" cy="149.6" r="2.78"/><circle cx="491.2" cy="354.2" r="2.78"/><circle cx="322.5" cy="241.5" r="2.78"/><circle cx="443.6" cy="316.8" r="2.78"/><circle cx="175.5" cy="153.7" r="2.78"/><circle cx="295.9" cy="227.3" r="2.78"/><circle cx="449.5" cy="329.9" r="2.78"/><circle cx="466.3" cy="323.2" r="2.78"/><circle cx="262.8" cy="205.3" r="2.78"/><circle cx="445.4" cy="317.7" r="2.78"/><circle cx="167.7" cy="132.7" r="2.78"/><circle cx="146.4" cy="121.8" r="2.78"/><circle cx="439.3" cy="313.1" r="2.78"/><circle cx="292.8" cy="216.9" r="2.78"/><circle cx="268.8" cy="207.7" r="2.78"/><circle cx="394.1" cy="282.9" r="2.78"/><circle cx="303.4" cy="232.3" r="2.78"/><circle cx="420.7" cy="299.0" r="2.78"/><circle cx="387.9" cy="280.6" r="2.78"/><circle cx="321.2" cy="235.9" r="2.78"/><circle cx="258.5" cy="194.4" r="2.78"/><circle cx="262.8" cy="193.4" r="2.78"/><circle cx="187.4" cy="151.6" r="2.78"/><circle cx="127.5" cy="105.6" r="2.78"/><circle cx="403.8" cy="289.4" r="2.78"/><circle cx="238.9" cy="172.2" r="2.78"/><circle cx="452.3" cy="323.6" r="2.78"/><circle cx="369.4" cy="282.1" r="2.78"/><circle cx="187.7" cy="150.1" r="2.78"/><circle cx="434.8" cy="311.9" r="2.78"/><circle cx="258.8" cy="190.1" r="2.78"/><circle cx="288.5" cy="211.2" r="2.78"/><circle cx="401.4" cy="286.7" r="2.78"/><circle cx="274.0" cy="203.1" r="2.78"/><circle cx="442.5" cy="316.6" r="2.78"/><circle cx="264.6" cy="201.2" r="2.78"/><circle cx="490.2" cy="349.2" r="2.78"/><circle cx="509.6" cy="362.0" r="2.78"/><circle cx="259.1" cy="200.3" r="2.78"/><circle cx="241.2" cy="168.3" r="2.78"/><circle cx="419.6" cy="300.3" r="2.78"/><circle cx="323.3" cy="241.9" r="2.78"/><circle cx="480.3" cy="343.9" r="2.78"/><circle cx="114.1" cy="97.6" r="2.78"/><circle cx="296.8" cy="226.2" r="2.78"/><circle cx="454.5" cy="324.6" r="2.78"/><circle cx="301.5" cy="232.4" r="2.78"/><circle cx="287.3" cy="211.0" r="2.78"/><circle cx="317.4" cy="238.4" r="2.78"/><circle cx="383.8" cy="282.0" r="2.78"/><circle cx="271.4" cy="192.1" r="2.78"/><circle cx="387.7" cy="282.8" r="2.78"/><circle cx="425.1" cy="307.1" r="2.78"/><circle cx="152.8" cy="118.3" r="2.78"/><circle cx="135.6" cy="121.8" r="2.78"/><circle cx="145.9" cy="117.9" r="2.78"/><circle cx="418.4" cy="301.5" r="2.78"/><circle cx="126.4" cy="110.5" r="2.78"/><circle cx="400.8" cy="288.5" r="2.78"/><circle cx="126.3" cy="110.5" r="2.78"/><circle cx="278.2" cy="201.6" r="2.78"/><circle cx="520.8" cy="380.8" r="2.78"/><circle cx="468.1" cy="324.7" r="2.78"/><circle cx="243.2" cy="178.7" r="2.78"/><circle cx="105.9" cy="99.5" r="2.78"/><circle cx="218.3" cy="174.0" r="2.78"/><circle cx="234.3" cy="175.4" r="2.78"/><circle cx="462.6" cy="329.5" r="2.78"/><circle cx="317.1" cy="232.9" r="2.78"/><circle cx="124.8" cy="101.7" r="2.78"/><circle cx="465.9" cy="331.1" r="2.78"/><circle cx="461.7" cy="326.6" r="2.78"/><circle cx="187.9" cy="145.8" r="2.78"/><circle cx="327.9" cy="243.6" r="2.78"/><circle cx="297.5" cy="227.0" r="2.78"/><circle cx="347.5" cy="252.0" r="2.78"/><circle cx="438.6" cy="308.3" r="2.78"/><circle cx="487.9" cy="354.0" r="2.78"/><circle cx="124.8" cy="101.8" r="2.78"/><circle cx="326.3" cy="242.6" r="2.78"/><circle cx="339.7" cy="248.6" r="2.78"/><circle cx="217.8" cy="179.3" r="2.78"/><circle cx="225.3" cy="184.8" r="2.78"/><circle cx="439.0" cy="313.3" r="2.78"/><circle cx="293.5" cy="227.0" r="2.78"/><circle cx="289.4" cy="217.5" r="2.78"/><circle cx="127.5" cy="108.3" r="2.78"/><circle cx="370.7" cy="274.8" r="2.78"/><circle cx="464.2" cy="323.1" r="2.78"/><circle cx="352.8" cy="251.2" r="2.78"/><circle cx="489.2" cy="354.3" r="2.78"/><circle cx="438.3" cy="311.4" r="2.78"/><circle cx="385.2" cy="282.5" r="2.78"/><circle cx="226.7" cy="174.5" r="2.78"/><circle cx="454.0" cy="322.6" r="2.78"/><circle cx="487.3" cy="348.1" r="2.78"/><circle cx="145.6" cy="118.1" r="2.78"/><circle cx="431.4" cy="315.3" r="2.78"/><circle cx="276.8" cy="203.1" r="2.78"/><circle cx="211.1" cy="172.3" r="2.78"/><circle cx="390.3" cy="277.3" r="2.78"/><circle cx="127.1" cy="110.9" r="2.78"/><circle cx="120.8" cy="104.6" r="2.78"/><circle cx="226.2" cy="175.8" r="2.78"/><circle cx="346.8" cy="250.7" r="2.78"/><circle cx="337.8" cy="247.2" r="2.78"/><circle cx="484.8" cy="344.9" r="2.78"/><circle cx="455.2" cy="321.6" r="2.78"/><circle cx="437.7" cy="315.8" r="2.78"/><circle cx="267.1" cy="194.0" r="2.78"/><circle cx="262.3" cy="202.5" r="2.78"/><circle cx="196.8" cy="154.4" r="2.78"/><circle cx="142.5" cy="123.3" r="2.78"/><circle cx="408.0" cy="299.9" r="2.78"/><circle cx="387.3" cy="277.8" r="2.78"/><circle cx="449.9" cy="323.1" r="2.78"/><circle cx="489.5" cy="360.7" r="2.78"/><circle cx="496.3" cy="356.1" r="2.78"/><circle cx="225.0" cy="179.6" r="2.78"/><circle cx="417.2" cy="299.9" r="2.78"/><circle cx="492.3" cy="348.5" r="2.78"/><circle cx="306.1" cy="232.4" r="2.78"/><circle cx="353.4" cy="255.8" r="2.78"/><circle cx="140.4" cy="118.1" r="2.78"/><circle cx="216.8" cy="179.0" r="2.78"/><circle cx="457.0" cy="324.1" r="2.78"/><circle cx="490.1" cy="346.9" r="2.78"/><circle cx="353.8" cy="260.8" r="2.78"/><circle cx="247.4" cy="191.4" r="2.78"/><circle cx="378.0" cy="274.7" r="2.78"/><circle cx="242.7" cy="176.8" r="2.78"/><circle cx="206.9" cy="159.2" r="2.78"/><circle cx="178.2" cy="154.4" r="2.78"/><circle cx="228.1" cy="170.1" r="2.78"/><circle cx="337.2" cy="247.0" r="2.78"/><circle cx="334.1" cy="255.6" r="2.78"/><circle cx="352.5" cy="254.2" r="2.78"/><circle cx="117.5" cy="98.6" r="2.78"/><circle cx="144.0" cy="126.2" r="2.78"/><circle cx="158.6" cy="129.1" r="2.78"/><circle cx="251.0" cy="187.6" r="2.78"/><circle cx="380.7" cy="274.8" r="2.78"/><circle cx="174.4" cy="154.7" r="2.78"/><circle cx="242.1" cy="184.8" r="2.78"/><circle cx="468.7" cy="329.9" r="2.78"/><circle cx="165.7" cy="129.9" r="2.78"/><circle cx="471.0" cy="330.2" r="2.78"/><circle cx="310.9" cy="227.5" r="2.78"/><circle cx="152.6" cy="122.4" r="2.78"/><circle cx="172.0" cy="144.4" r="2.78"/><circle cx="315.3" cy="229.7" r="2.78"/><circle cx="186.1" cy="150.3" r="2.78"/><circle cx="188.5" cy="146.6" r="2.78"/><circle cx="203.7" cy="159.8" r="2.78"/><circle cx="313.3" cy="234.6" r="2.78"/><circle cx="109.7" cy="91.7" r="2.78"/><circle cx="307.6" cy="230.3" r="2.78"/><circle cx="341.9" cy="254.0" r="2.78"/><circle cx="199.3" cy="157.9" r="2.78"/><circle cx="167.6" cy="132.9" r="2.78"/><circle cx="116.3" cy="96.9" r="2.78"/><circle cx="320.1" cy="234.9" r="2.78"/><circle cx="475.8" cy="330.9" r="2.78"/><circle cx="345.3" cy="247.4" r="2.78"/><circle cx="352.4" cy="257.6" r="2.78"/><circle cx="400.7" cy="281.5" r="2.78"/><circle cx="206.2" cy="155.4" r="2.78"/><circle cx="514.5" cy="363.8" r="2.78"/><circle cx="362.0" cy="265.7" r="2.78"/><circle cx="444.1" cy="318.5" r="2.78"/><circle cx="442.4" cy="317.5" r="2.78"/><circle cx="488.5" cy="346.0" r="2.78"/><circle cx="496.7" cy="355.3" r="2.78"/><circle cx="273.6" cy="191.8" r="2.78"/><circle cx="205.8" cy="156.9" r="2.78"/><circle cx="387.3" cy="278.2" r="2.78"/><circle cx="247.4" cy="175.4" r="2.78"/><circle cx="186.3" cy="148.2" r="2.78"/><circle cx="241.8" cy="187.4" r="2.78"/><circle cx="520.5" cy="380.6" r="2.78"/><circle cx="304.0" cy="228.2" r="2.78"/><circle cx="429.3" cy="312.5" r="2.78"/><circle cx="417.7" cy="301.8" r="2.78"/><circle cx="186.6" cy="152.5" r="2.78"/><circle cx="457.1" cy="330.9" r="2.78"/><circle cx="142.0" cy="126.9" r="2.78"/><circle cx="249.4" cy="180.2" r="2.78"/><circle cx="507.3" cy="359.7" r="2.78"/><circle cx="415.2" cy="295.7" r="2.78"/><circle cx="449.9" cy="330.7" r="2.78"/><circle cx="481.8" cy="345.7" r="2.78"/><circle cx="451.5" cy="329.9" r="2.78"/><circle cx="350.3" cy="252.9" r="2.78"/><circle cx="448.5" cy="328.0" r="2.78"/><circle cx="467.6" cy="326.0" r="2.78"/><circle cx="505.3" cy="356.3" r="2.78"/><circle cx="499.0" cy="352.9" r="2.78"/><circle cx="508.4" cy="361.7" r="2.78"/><circle cx="208.8" cy="166.7" r="2.78"/><circle cx="200.4" cy="150.4" r="2.78"/><circle cx="294.9" cy="222.0" r="2.78"/><circle cx="309.4" cy="231.5" r="2.78"/><circle cx="390.0" cy="285.1" r="2.78"/><circle cx="267.3" cy="204.7" r="2.78"/><circle cx="435.3" cy="312.7" r="2.78"/><circle cx="497.2" cy="359.2" r="2.78"/><circle cx="273.3" cy="192.0" r="2.78"/><circle cx="376.3" cy="284.6" r="2.78"/><circle cx="245.4" cy="182.5" r="2.78"/><circle cx="453.2" cy="328.9" r="2.78"/><circle cx="105.3" cy="89.1" r="2.78"/><circle cx="110.2" cy="79.3" r="2.78"/><circle cx="443.2" cy="318.1" r="2.78"/><circle cx="356.3" cy="258.6" r="2.78"/><circle cx="243.7" cy="171.7" r="2.78"/><circle cx="251.3" cy="195.8" r="2.78"/><circle cx="362.4" cy="261.2" r="2.78"/><circle cx="140.2" cy="119.9" r="2.78"/><circle cx="396.6" cy="284.1" r="2.78"/><circle cx="379.8" cy="282.0" r="2.78"/><circle cx="153.9" cy="125.8" r="2.78"/><circle cx="120.7" cy="104.2" r="2.78"/><circle cx="180.4" cy="148.6" r="2.78"/><circle cx="503.9" cy="354.4" r="2.78"/><circle cx="197.1" cy="158.4" r="2.78"/><circle cx="358.6" cy="266.9" r="2.78"/><circle cx="268.3" cy="200.5" r="2.78"/><circle cx="503.1" cy="356.1" r="2.78"/><circle cx="516.8" cy="371.5" r="2.78"/><circle cx="450.8" cy="324.5" r="2.78"/><circle cx="323.9" cy="234.5" r="2.78"/><circle cx="176.7" cy="156.0" r="2.78"/><circle cx="293.5" cy="225.7" r="2.78"/><circle cx="208.3" cy="157.4" r="2.78"/><circle cx="145.6" cy="124.7" r="2.78"/><circle cx="464.0" cy="327.9" r="2.78"/><circle cx="260.9" cy="205.7" r="2.78"/><circle cx="477.2" cy="339.4" r="2.78"/><circle cx="135.1" cy="118.2" r="2.78"/><circle cx="289.1" cy="217.5" r="2.78"/><circle cx="254.7" cy="197.9" r="2.78"/><circle cx="367.7" cy="271.1" r="2.78"/><circle cx="321.8" cy="242.5" r="2.78"/><circle cx="482.8" cy="344.4" r="2.78"/><circle cx="255.5" cy="202.8" r="2.78"/><circle cx="127.2" cy="112.4" r="2.78"/><circle cx="389.3" cy="283.1" r="2.78"/><circle cx="290.6" cy="219.0" r="2.78"/><circle cx="476.1" cy="340.0" r="2.78"/><circle cx="417.0" cy="294.2" r="2.78"/><circle cx="239.4" cy="170.0" r="2.78"/><circle cx="502.0" cy="360.0" r="2.78"/><circle cx="163.8" cy="132.8" r="2.78"/><circle cx="344.6" cy="243.0" r="2.78"/><circle cx="267.4" cy="204.2" r="2.78"/><circle cx="371.7" cy="278.9" r="2.78"/><circle cx="422.3" cy="300.7" r="2.78"/><circle cx="331.0" cy="248.6" r="2.78"/><circle cx="512.5" cy="366.7" r="2.78"/><circle cx="440.0" cy="315.9" r="2.78"/><circle cx="262.5" cy="207.2" r="2.78"/><circle cx="400.2" cy="290.7" r="2.78"/><circle cx="219.4" cy="174.6" r="2.78"/><circle cx="343.9" cy="256.7" r="2.78"/><circle cx="435.3" cy="308.4" r="2.78"/><circle cx="161.9" cy="130.1" r="2.78"/><circle cx="470.3" cy="330.2" r="2.78"/><circle cx="412.2" cy="299.2" r="2.78"/><circle cx="233.9" cy="172.5" r="2.78"/><circle cx="227.9" cy="176.1" r="2.78"/><circle cx="507.8" cy="362.9" r="2.78"/><circle cx="181.7" cy="149.6" r="2.78"/><circle cx="498.1" cy="353.8" r="2.78"/><circle cx="237.6" cy="176.9" r="2.78"/><circle cx="148.7" cy="120.1" r="2.78"/><circle cx="268.2" cy="198.9" r="2.78"/><circle cx="506.4" cy="354.3" r="2.78"/><circle cx="188.7" cy="156.7" r="2.78"/><circle cx="291.7" cy="222.1" r="2.78"/><circle cx="369.8" cy="281.7" r="2.78"/><circle cx="235.0" cy="173.3" r="2.78"/><circle cx="420.0" cy="301.5" r="2.78"/><circle cx="337.1" cy="254.1" r="2.78"/><circle cx="418.2" cy="298.0" r="2.78"/><circle cx="255.1" cy="201.6" r="2.78"/><circle cx="324.8" cy="239.6" r="2.78"/><circle cx="367.0" cy="268.0" r="2.78"/><circle cx="426.0" cy="297.8" r="2.78"/><circle cx="449.1" cy="326.4" r="2.78"/><circle cx="251.3" cy="197.3" r="2.78"/><circle cx="214.4" cy="169.0" r="2.78"/><circle cx="132.6" cy="113.0" r="2.78"/><circle cx="418.6" cy="302.8" r="2.78"/><circle cx="276.0" cy="206.2" r="2.78"/><circle cx="149.9" cy="120.4" r="2.78"/><circle cx="373.0" cy="285.8" r="2.78"/><circle cx="368.5" cy="278.0" r="2.78"/><circle cx="427.4" cy="302.9" r="2.78"/><circle cx="496.7" cy="358.3" r="2.78"/><circle cx="246.3" cy="179.1" r="2.78"/><circle cx="440.4" cy="312.9" r="2.78"/><circle cx="181.1" cy="156.5" r="2.78"/><circle cx="325.8" cy="244.1" r="2.78"/><circle cx="383.4" cy="282.8" r="2.78"/><circle cx="159.2" cy="126.6" r="2.78"/><circle cx="131.0" cy="109.3" r="2.78"/><circle cx="313.4" cy="234.1" r="2.78"/><circle cx="382.7" cy="279.6" r="2.78"/><circle cx="272.2" cy="201.5" r="2.78"/><circle cx="217.9" cy="180.0" r="2.78"/><circle cx="433.2" cy="315.2" r="2.78"/><circle cx="166.6" cy="138.4" r="2.78"/><circle cx="418.8" cy="301.0" r="2.78"/><circle cx="479.1" cy="343.7" r="2.78"/><circle cx="414.1" cy="304.0" r="2.78"/><circle cx="374.8" cy="285.6" r="2.78"/><circle cx="158.3" cy="130.4" r="2.78"/><circle cx="397.7" cy="286.6" r="2.78"/><circle cx="218.4" cy="172.1" r="2.78"/><circle cx="355.7" cy="261.7" r="2.78"/><circle cx="217.6" cy="172.5" r="2.78"/><circle cx="197.0" cy="148.6" r="2.78"/><circle cx="386.1" cy="286.1" r="2.78"/><circle cx="438.9" cy="310.5" r="2.78"/><circle cx="395.9" cy="279.4" r="2.78"/><circle cx="454.1" cy="324.1" r="2.78"/><circle cx="104.8" cy="92.3" r="2.78"/><circle cx="161.4" cy="126.7" r="2.78"/><circle cx="128.1" cy="108.6" r="2.78"/><circle cx="335.5" cy="255.8" r="2.78"/><circle cx="119.9" cy="103.5" r="2.78"/><circle cx="149.6" cy="119.3" r="2.78"/><circle cx="366.6" cy="268.3" r="2.78"/><circle cx="241.8" cy="178.8" r="2.78"/><circle cx="194.5" cy="159.4" r="2.78"/><circle cx="190.8" cy="158.4" r="2.78"/><circle cx="441.6" cy="317.1" r="2.78"/><circle cx="116.1" cy="103.6" r="2.78"/><circle cx="115.2" cy="97.8" r="2.78"/><circle cx="280.7" cy="193.2" r="2.78"/><circle cx="366.9" cy="275.8" r="2.78"/><circle cx="348.0" cy="252.4" r="2.78"/><circle cx="317.6" cy="235.6" r="2.78"/><circle cx="198.0" cy="158.4" r="2.78"/><circle cx="519.8" cy="381.1" r="2.78"/><circle cx="505.5" cy="353.9" r="2.78"/><circle cx="515.9" cy="368.3" r="2.78"/><circle cx="303.2" cy="222.9" r="2.78"/><circle cx="293.2" cy="223.9" r="2.78"/><circle cx="399.7" cy="285.8" r="2.78"/><circle cx="246.3" cy="174.8" r="2.78"/><circle cx="271.9" cy="196.2" r="2.78"/><circle cx="184.6" cy="154.4" r="2.78"/><circle cx="319.3" cy="235.7" r="2.78"/><circle cx="186.1" cy="153.5" r="2.78"/><circle cx="185.7" cy="148.9" r="2.78"/><circle cx="337.7" cy="254.4" r="2.78"/><circle cx="510.3" cy="363.2" r="2.78"/><circle cx="500.0" cy="360.0" r="2.78"/><circle cx="405.6" cy="298.6" r="2.78"/><circle cx="129.6" cy="106.6" r="2.78"/><circle cx="108.8" cy="91.4" r="2.78"/><circle cx="405.3" cy="296.9" r="2.78"/><circle cx="213.7" cy="169.6" r="2.78"/><circle cx="171.8" cy="145.5" r="2.78"/><circle cx="518.1" cy="374.3" r="2.78"/><circle cx="121.9" cy="93.6" r="2.78"/><circle cx="252.0" cy="198.0" r="2.78"/><circle cx="439.8" cy="313.2" r="2.78"/><circle cx="146.1" cy="118.2" r="2.78"/><circle cx="167.7" cy="141.1" r="2.78"/><circle cx="300.5" cy="233.1" r="2.78"/><circle cx="484.7" cy="352.7" r="2.78"/><circle cx="302.6" cy="232.1" r="2.78"/><circle cx="157.0" cy="123.2" r="2.78"/><circle cx="339.0" cy="251.4" r="2.78"/><circle cx="190.9" cy="150.2" r="2.78"/><circle cx="112.3" cy="97.7" r="2.78"/><circle cx="400.4" cy="295.2" r="2.78"/><circle cx="513.5" cy="368.5" r="2.78"/><circle cx="409.7" cy="303.0" r="2.78"/><circle cx="442.9" cy="322.2" r="2.78"/><circle cx="159.4" cy="122.7" r="2.78"/><circle cx="192.9" cy="157.4" r="2.78"/><circle cx="261.9" cy="193.7" r="2.78"/><circle cx="450.6" cy="330.0" r="2.78"/><circle cx="297.3" cy="222.5" r="2.78"/><circle cx="475.2" cy="337.0" r="2.78"/><circle cx="133.1" cy="110.6" r="2.78"/><circle cx="364.6" cy="270.3" r="2.78"/><circle cx="306.0" cy="229.4" r="2.78"/><circle cx="189.4" cy="148.1" r="2.78"/><circle cx="482.2" cy="342.2" r="2.78"/><circle cx="146.9" cy="125.1" r="2.78"/><circle cx="156.2" cy="123.6" r="2.78"/><circle cx="294.3" cy="224.8" r="2.78"/><circle cx="369.5" cy="280.0" r="2.78"/><circle cx="287.3" cy="206.6" r="2.78"/><circle cx="406.4" cy="291.6" r="2.78"/><circle cx="300.2" cy="226.2" r="2.78"/><circle cx="384.8" cy="282.6" r="2.78"/><circle cx="203.7" cy="156.7" r="2.78"/><circle cx="392.8" cy="282.1" r="2.78"/><circle cx="162.7" cy="136.0" r="2.78"/><circle cx="353.9" cy="251.7" r="2.78"/><circle cx="203.2" cy="161.9" r="2.78"/><circle cx="199.0" cy="152.8" r="2.78"/><circle cx="433.0" cy="315.0" r="2.78"/><circle cx="368.5" cy="278.8" r="2.78"/><circle cx="119.4" cy="90.1" r="2.78"/><circle cx="511.6" cy="366.6" r="2.78"/><circle cx="119.3" cy="89.3" r="2.78"/><circle cx="203.9" cy="160.5" r="2.78"/><circle cx="195.2" cy="157.1" r="2.78"/><circle cx="492.5" cy="355.9" r="2.78"/><circle cx="487.9" cy="349.6" r="2.78"/><circle cx="167.5" cy="129.0" r="2.78"/><circle cx="420.0" cy="297.9" r="2.78"/><circle cx="510.4" cy="363.0" r="2.78"/><circle cx="181.6" cy="155.7" r="2.78"/><circle cx="171.5" cy="141.8" r="2.78"/><circle cx="147.6" cy="127.8" r="2.78"/><circle cx="475.5" cy="342.7" r="2.78"/><circle cx="104.3" cy="97.1" r="2.78"/><circle cx="335.9" cy="255.9" r="2.78"/><circle cx="313.5" cy="230.1" r="2.78"/><circle cx="352.0" cy="257.6" r="2.78"/><circle cx="135.8" cy="110.9" r="2.78"/><circle cx="331.5" cy="247.8" r="2.78"/><circle cx="269.4" cy="192.7" r="2.78"/><circle cx="415.0" cy="294.7" r="2.78"/><circle cx="450.4" cy="330.0" r="2.78"/><circle cx="294.9" cy="220.7" r="2.78"/><circle cx="375.3" cy="278.7" r="2.78"/><circle cx="282.8" cy="197.0" r="2.78"/><circle cx="511.8" cy="364.2" r="2.78"/><circle cx="250.8" cy="182.7" r="2.78"/><circle cx="408.8" cy="305.9" r="2.78"/><circle cx="458.2" cy="324.2" r="2.78"/><circle cx="257.1" cy="193.3" r="2.78"/><circle cx="422.3" cy="299.3" r="2.78"/><circle cx="357.0" cy="265.9" r="2.78"/><circle cx="424.9" cy="297.5" r="2.78"/><circle cx="134.7" cy="110.1" r="2.78"/><circle cx="393.0" cy="284.1" r="2.78"/><circle cx="320.9" cy="238.3" r="2.78"/><circle cx="273.8" cy="202.3" r="2.78"/><circle cx="374.6" cy="285.9" r="2.78"/><circle cx="409.8" cy="307.2" r="2.78"/><circle cx="485.2" cy="354.2" r="2.78"/><circle cx="403.1" cy="284.8" r="2.78"/><circle cx="388.1" cy="286.6" r="2.78"/><circle cx="283.5" cy="211.4" r="2.78"/><circle cx="178.6" cy="156.6" r="2.78"/><circle cx="288.1" cy="213.9" r="2.78"/><circle cx="209.0" cy="158.1" r="2.78"/><circle cx="249.1" cy="182.3" r="2.78"/><circle cx="143.0" cy="123.1" r="2.78"/><circle cx="513.6" cy="372.8" r="2.78"/><circle cx="493.3" cy="357.7" r="2.78"/><circle cx="453.4" cy="330.5" r="2.78"/><circle cx="418.2" cy="298.1" r="2.78"/><circle cx="207.8" cy="157.7" r="2.78"/><circle cx="112.1" cy="86.7" r="2.78"/><circle cx="474.1" cy="343.1" r="2.78"/><circle cx="240.9" cy="182.5" r="2.78"/><circle cx="427.5" cy="310.3" r="2.78"/><circle cx="435.7" cy="310.8" r="2.78"/><circle cx="147.2" cy="128.4" r="2.78"/><circle cx="234.6" cy="181.5" r="2.78"/><circle cx="256.9" cy="196.9" r="2.78"/><circle cx="507.3" cy="354.5" r="2.78"/><circle cx="325.4" cy="245.9" r="2.78"/><circle cx="328.6" cy="253.2" r="2.78"/><circle cx="273.8" cy="208.4" r="2.78"/><circle cx="391.9" cy="288.9" r="2.78"/><circle cx="140.9" cy="119.2" r="2.78"/><circle cx="223.6" cy="186.7" r="2.78"/><circle cx="109.1" cy="81.1" r="2.78"/><circle cx="402.8" cy="299.4" r="2.78"/><circle cx="177.1" cy="148.9" r="2.78"/><circle cx="390.7" cy="284.8" r="2.78"/><circle cx="415.4" cy="302.5" r="2.78"/><circle cx="207.3" cy="154.1" r="2.78"/><circle cx="115.0" cy="100.3" r="2.78"/><circle cx="190.9" cy="150.3" r="2.78"/><circle cx="506.7" cy="358.8" r="2.78"/><circle cx="350.6" cy="255.2" r="2.78"/><circle cx="353.4" cy="257.5" r="2.78"/><circle cx="230.5" cy="168.1" r="2.78"/><circle cx="131.4" cy="105.1" r="2.78"/><circle cx="254.6" cy="191.1" r="2.78"/><circle cx="150.6" cy="123.1" r="2.78"/><circle cx="508.9" cy="361.3" r="2.78"/><circle cx="217.7" cy="178.9" r="2.78"/><circle cx="177.8" cy="144.7" r="2.78"/><circle cx="230.2" cy="175.0" r="2.78"/><circle cx="391.8" cy="281.0" r="2.78"/><circle cx="408.0" cy="296.4" r="2.78"/><circle cx="493.3" cy="352.4" r="2.78"/><circle cx="451.5" cy="323.7" r="2.78"/><circle cx="450.0" cy="324.2" r="2.78"/><circle cx="461.0" cy="334.5" r="2.78"/><circle cx="383.9" cy="278.5" r="2.78"/><circle cx="107.5" cy="80.3" r="2.78"/><circle cx="481.8" cy="339.4" r="2.78"/><circle cx="379.1" cy="279.9" r="2.78"/><circle cx="379.9" cy="274.5" r="2.78"/><circle cx="163.5" cy="125.0" r="2.78"/><circle cx="514.4" cy="369.6" r="2.78"/><circle cx="376.2" cy="281.8" r="2.78"/><circle cx="196.8" cy="148.3" r="2.78"/><circle cx="109.6" cy="90.5" r="2.78"/><circle cx="157.8" cy="133.0" r="2.78"/><circle cx="255.5" cy="199.2" r="2.78"/><circle cx="161.2" cy="133.3" r="2.78"/><circle cx="208.6" cy="158.1" r="2.78"/><circle cx="322.1" cy="235.1" r="2.78"/><circle cx="207.2" cy="161.5" r="2.78"/><circle cx="222.7" cy="179.0" r="2.78"/><circle cx="423.2" cy="300.1" r="2.78"/><circle cx="184.5" cy="148.8" r="2.78"/><circle cx="264.1" cy="198.0" r="2.78"/><circle cx="371.6" cy="280.6" r="2.78"/><circle cx="467.1" cy="323.4" r="2.78"/><circle cx="380.9" cy="281.9" r="2.78"/><circle cx="201.6" cy="147.9" r="2.78"/><circle cx="286.7" cy="206.3" r="2.78"/><circle cx="295.8" cy="228.0" r="2.78"/><circle cx="142.6" cy="118.2" r="2.78"/><circle cx="303.9" cy="223.5" r="2.78"/><circle cx="199.9" cy="153.9" r="2.78"/><circle cx="152.9" cy="115.8" r="2.78"/><circle cx="254.4" cy="195.3" r="2.78"/><circle cx="495.1" cy="355.9" r="2.78"/><circle cx="133.3" cy="109.6" r="2.78"/><circle cx="414.6" cy="300.8" r="2.78"/><circle cx="467.3" cy="332.8" r="2.78"/><circle cx="462.2" cy="324.4" r="2.78"/><circle cx="498.1" cy="356.6" r="2.78"/><circle cx="203.6" cy="149.9" r="2.78"/><circle cx="465.0" cy="324.8" r="2.78"/><circle cx="138.1" cy="118.5" r="2.78"/><circle cx="489.9" cy="353.0" r="2.78"/><circle cx="409.2" cy="298.9" r="2.78"/><circle cx="292.8" cy="219.4" r="2.78"/><circle cx="189.3" cy="153.9" r="2.78"/><circle cx="254.5" cy="190.8" r="2.78"/><circle cx="515.0" cy="373.1" r="2.78"/><circle cx="178.7" cy="144.3" r="2.78"/><circle cx="376.5" cy="281.0" r="2.78"/><circle cx="113.6" cy="95.4" r="2.78"/><circle cx="413.1" cy="302.0" r="2.78"/><circle cx="201.3" cy="155.5" r="2.78"/><circle cx="356.4" cy="260.9" r="2.78"/><circle cx="164.0" cy="136.4" r="2.78"/><circle cx="498.9" cy="358.4" r="2.78"/><circle cx="461.9" cy="327.8" r="2.78"/><circle cx="480.9" cy="338.7" r="2.78"/><circle cx="198.3" cy="155.1" r="2.78"/><circle cx="480.5" cy="336.9" r="2.78"/><circle cx="194.1" cy="148.7" r="2.78"/><circle cx="287.0" cy="207.0" r="2.78"/><circle cx="183.5" cy="154.8" r="2.78"/><circle cx="347.3" cy="259.4" r="2.78"/><circle cx="271.5" cy="203.4" r="2.78"/><circle cx="108.7" cy="93.0" r="2.78"/><circle cx="200.9" cy="155.0" r="2.78"/><circle cx="317.4" cy="239.9" r="2.78"/><circle cx="309.2" cy="232.3" r="2.78"/><circle cx="363.2" cy="261.1" r="2.78"/><circle cx="452.2" cy="324.6" r="2.78"/><circle cx="521.4" cy="377.5" r="2.78"/><circle cx="198.0" cy="159.6" r="2.78"/><circle cx="238.0" cy="176.0" r="2.78"/><circle cx="246.9" cy="185.5" r="2.78"/><circle cx="113.0" cy="93.5" r="2.78"/><circle cx="171.2" cy="145.5" r="2.78"/><circle cx="103.4" cy="92.2" r="2.78"/><circle cx="211.2" cy="167.1" r="2.78"/><circle cx="338.4" cy="254.4" r="2.78"/><circle cx="161.0" cy="126.1" r="2.78"/><circle cx="153.8" cy="130.5" r="2.78"/><circle cx="165.8" cy="130.5" r="2.78"/><circle cx="321.8" cy="241.2" r="2.78"/><circle cx="474.2" cy="329.6" r="2.78"/><circle cx="201.4" cy="150.1" r="2.78"/><circle cx="348.3" cy="253.1" r="2.78"/><circle cx="274.4" cy="208.1" r="2.78"/><circle cx="380.1" cy="282.5" r="2.78"/><circle cx="503.6" cy="353.4" r="2.78"/><circle cx="497.4" cy="355.6" r="2.78"/><circle cx="125.0" cy="111.8" r="2.78"/><circle cx="146.9" cy="116.8" r="2.78"/><circle cx="224.5" cy="178.5" r="2.78"/><circle cx="507.8" cy="362.0" r="2.78"/><circle cx="279.1" cy="200.9" r="2.78"/><circle cx="458.4" cy="334.2" r="2.78"/><circle cx="376.7" cy="280.8" r="2.78"/><circle cx="152.1" cy="118.9" r="2.78"/><circle cx="378.6" cy="280.2" r="2.78"/><circle cx="438.4" cy="316.0" r="2.78"/><circle cx="505.9" cy="352.7" r="2.78"/><circle cx="135.2" cy="122.3" r="2.78"/><circle cx="341.9" cy="245.8" r="2.78"/><circle cx="392.8" cy="279.1" r="2.78"/><circle cx="202.3" cy="153.1" r="2.78"/><circle cx="322.5" cy="243.7" r="2.78"/><circle cx="134.1" cy="118.3" r="2.78"/><circle cx="364.5" cy="265.5" r="2.78"/><circle cx="384.5" cy="283.1" r="2.78"/><circle cx="107.4" cy="85.9" r="2.78"/><circle cx="386.9" cy="284.1" r="2.78"/><circle cx="374.2" cy="278.4" r="2.78"/><circle cx="504.3" cy="359.2" r="2.78"/><circle cx="200.8" cy="154.2" r="2.78"/><circle cx="504.0" cy="352.7" r="2.78"/><circle cx="274.5" cy="209.7" r="2.78"/><circle cx="479.8" cy="337.6" r="2.78"/><circle cx="410.9" cy="302.4" r="2.78"/><circle cx="380.8" cy="281.2" r="2.78"/><circle cx="156.7" cy="124.3" r="2.78"/><circle cx="193.3" cy="152.5" r="2.78"/><circle cx="118.3" cy="91.4" r="2.78"/><circle cx="273.2" cy="198.5" r="2.78"/><circle cx="135.9" cy="118.8" r="2.78"/><circle cx="497.5" cy="357.1" r="2.78"/><circle cx="252.1" cy="195.1" r="2.78"/><circle cx="286.2" cy="206.2" r="2.78"/><circle cx="304.8" cy="221.1" r="2.78"/><circle cx="386.1" cy="278.2" r="2.78"/><circle cx="258.0" cy="204.2" r="2.78"/><circle cx="424.1" cy="307.2" r="2.78"/><circle cx="371.9" cy="282.2" r="2.78"/><circle cx="398.2" cy="292.3" r="2.78"/><circle cx="185.5" cy="154.4" r="2.78"/><circle cx="229.2" cy="172.7" r="2.78"/><circle cx="447.0" cy="324.6" r="2.78"/><circle cx="458.7" cy="336.0" r="2.78"/><circle cx="349.6" cy="250.3" r="2.78"/><circle cx="109.7" cy="85.5" r="2.78"/><circle cx="406.9" cy="295.6" r="2.78"/><circle cx="132.7" cy="105.6" r="2.78"/><circle cx="175.8" cy="151.9" r="2.78"/><circle cx="105.0" cy="83.4" r="2.78"/><circle cx="214.3" cy="174.0" r="2.78"/><circle cx="516.3" cy="367.9" r="2.78"/><circle cx="151.2" cy="129.9" r="2.78"/><circle cx="509.1" cy="357.0" r="2.78"/><circle cx="243.6" cy="179.1" r="2.78"/><circle cx="237.3" cy="176.7" r="2.78"/><circle cx="303.7" cy="224.7" r="2.78"/><circle cx="126.4" cy="104.3" r="2.78"/><circle cx="171.3" cy="134.7" r="2.78"/><circle cx="364.4" cy="267.9" r="2.78"/><circle cx="213.4" cy="173.9" r="2.78"/><circle cx="408.2" cy="299.4" r="2.78"/><circle cx="309.1" cy="222.6" r="2.78"/><circle cx="491.9" cy="354.7" r="2.78"/><circle cx="124.8" cy="99.4" r="2.78"/><circle cx="393.1" cy="281.1" r="2.78"/><circle cx="403.3" cy="288.1" r="2.78"/><circle cx="436.8" cy="313.8" r="2.78"/><circle cx="142.8" cy="125.2" r="2.78"/><circle cx="183.4" cy="154.4" r="2.78"/><circle cx="439.6" cy="316.6" r="2.78"/><circle cx="200.1" cy="148.8" r="2.78"/><circle cx="380.9" cy="279.1" r="2.78"/><circle cx="161.2" cy="125.5" r="2.78"/><circle cx="347.0" cy="247.9" r="2.78"/><circle cx="368.5" cy="270.8" r="2.78"/><circle cx="211.5" cy="167.5" r="2.78"/><circle cx="326.4" cy="247.8" r="2.78"/><circle cx="116.3" cy="102.8" r="2.78"/><circle cx="195.8" cy="151.6" r="2.78"/><circle cx="371.0" cy="282.2" r="2.78"/><circle cx="360.5" cy="267.7" r="2.78"/><circle cx="189.0" cy="149.0" r="2.78"/><circle cx="380.5" cy="275.7" r="2.78"/><circle cx="169.2" cy="133.2" r="2.78"/><circle cx="426.0" cy="308.4" r="2.78"/><circle cx="403.0" cy="299.2" r="2.78"/><circle cx="435.6" cy="308.0" r="2.78"/><circle cx="235.3" cy="183.0" r="2.78"/><circle cx="126.7" cy="109.8" r="2.78"/><circle cx="140.7" cy="116.8" r="2.78"/><circle cx="318.2" cy="230.9" r="2.78"/><circle cx="493.0" cy="359.1" r="2.78"/><circle cx="296.5" cy="223.2" r="2.78"/><circle cx="153.4" cy="122.9" r="2.78"/><circle cx="321.4" cy="237.8" r="2.78"/><circle cx="403.0" cy="292.4" r="2.78"/><circle cx="427.7" cy="298.8" r="2.78"/><circle cx="132.7" cy="110.9" r="2.78"/><circle cx="305.6" cy="224.3" r="2.78"/><circle cx="383.0" cy="277.2" r="2.78"/><circle cx="236.5" cy="178.3" r="2.78"/><circle cx="401.3" cy="294.0" r="2.78"/><circle cx="258.8" cy="196.5" r="2.78"/><circle cx="491.3" cy="359.8" r="2.78"/><circle cx="362.2" cy="258.7" r="2.78"/><circle cx="294.0" cy="224.9" r="2.78"/><circle cx="219.9" cy="173.9" r="2.78"/><circle cx="513.7" cy="377.9" r="2.78"/><circle cx="157.3" cy="127.2" r="2.78"/><circle cx="362.4" cy="261.3" r="2.78"/><circle cx="132.0" cy="114.8" r="2.78"/><circle cx="425.7" cy="303.1" r="2.78"/><circle cx="139.2" cy="121.3" r="2.78"/><circle cx="142.7" cy="130.9" r="2.78"/><circle cx="124.8" cy="101.5" r="2.78"/><circle cx="424.6" cy="299.1" r="2.78"/><circle cx="147.9" cy="117.4" r="2.78"/><circle cx="172.0" cy="144.3" r="2.78"/><circle cx="451.8" cy="324.6" r="2.78"/><circle cx="176.0" cy="153.1" r="2.78"/><circle cx="281.5" cy="198.8" r="2.78"/><circle cx="154.9" cy="119.9" r="2.78"/><circle cx="509.8" cy="357.5" r="2.78"/><circle cx="211.9" cy="171.9" r="2.78"/><circle cx="476.3" cy="342.4" r="2.78"/><circle cx="301.1" cy="233.0" r="2.78"/><circle cx="356.0" cy="256.4" r="2.78"/><circle cx="298.0" cy="229.2" r="2.78"/><circle cx="410.4" cy="300.7" r="2.78"/><circle cx="184.4" cy="156.8" r="2.78"/><circle cx="148.1" cy="128.2" r="2.78"/><circle cx="245.1" cy="174.4" r="2.78"/><circle cx="210.1" cy="164.0" r="2.78"/><circle cx="517.7" cy="371.6" r="2.78"/><circle cx="460.8" cy="328.1" r="2.78"/><circle cx="175.7" cy="152.6" r="2.78"/><circle cx="246.3" cy="174.7" r="2.78"/><circle cx="278.4" cy="205.5" r="2.78"/><circle cx="464.3" cy="328.6" r="2.78"/><circle cx="107.7" cy="90.9" r="2.78"/><circle cx="357.1" cy="265.0" r="2.78"/><circle cx="501.6" cy="354.3" r="2.78"/><circle cx="458.3" cy="334.0" r="2.78"/><circle cx="214.6" cy="170.6" r="2.78"/><circle cx="260.1" cy="196.4" r="2.78"/><circle cx="261.6" cy="194.8" r="2.78"/><circle cx="198.4" cy="159.3" r="2.78"/><circle cx="275.1" cy="202.9" r="2.78"/><circle cx="474.5" cy="340.4" r="2.78"/><circle cx="205.6" cy="159.1" r="2.78"/><circle cx="439.7" cy="318.9" r="2.78"/><circle cx="407.9" cy="303.3" r="2.78"/><circle cx="443.4" cy="316.7" r="2.78"/><circle cx="377.7" cy="278.6" r="2.78"/><circle cx="454.6" cy="322.0" r="2.78"/><circle cx="328.9" cy="244.2" r="2.78"/><circle cx="446.6" cy="321.4" r="2.78"/><circle cx="456.3" cy="329.7" r="2.78"/><circle cx="470.9" cy="330.5" r="2.78"/><circle cx="495.8" cy="358.1" r="2.78"/><circle cx="386.5" cy="283.3" r="2.78"/><circle cx="123.5" cy="108.9" r="2.78"/><circle cx="332.5" cy="251.2" r="2.78"/><circle cx="245.3" cy="186.6" r="2.78"/><circle cx="430.5" cy="313.2" r="2.78"/><circle cx="192.9" cy="153.7" r="2.78"/><circle cx="207.7" cy="152.3" r="2.78"/><circle cx="240.2" cy="167.6" r="2.78"/><circle cx="436.5" cy="307.4" r="2.78"/><circle cx="132.9" cy="106.8" r="2.78"/><circle cx="413.3" cy="298.3" r="2.78"/><circle cx="296.6" cy="225.4" r="2.78"/><circle cx="439.0" cy="317.4" r="2.78"/><circle cx="233.0" cy="180.9" r="2.78"/><circle cx="477.6" cy="337.2" r="2.78"/><circle cx="479.7" cy="342.7" r="2.78"/><circle cx="233.7" cy="185.4" r="2.78"/><circle cx="343.1" cy="244.2" r="2.78"/><circle cx="349.1" cy="257.4" r="2.78"/><circle cx="320.3" cy="237.5" r="2.78"/><circle cx="277.5" cy="206.9" r="2.78"/><circle cx="381.7" cy="276.0" r="2.78"/><circle cx="254.9" cy="194.0" r="2.78"/><circle cx="504.3" cy="358.2" r="2.78"/><circle cx="155.6" cy="130.7" r="2.78"/><circle cx="118.0" cy="99.8" r="2.78"/><circle cx="284.2" cy="209.5" r="2.78"/><circle cx="282.9" cy="196.9" r="2.78"/><circle cx="322.4" cy="245.6" r="2.78"/><circle cx="433.3" cy="308.1" r="2.78"/><circle cx="196.4" cy="157.2" r="2.78"/><circle cx="438.7" cy="308.6" r="2.78"/><circle cx="472.7" cy="343.3" r="2.78"/><circle cx="284.7" cy="205.2" r="2.78"/><circle cx="400.3" cy="294.7" r="2.78"/><circle cx="187.7" cy="148.7" r="2.78"/><circle cx="241.0" cy="181.7" r="2.78"/><circle cx="181.5" cy="152.5" r="2.78"/><circle cx="312.6" cy="230.4" r="2.78"/><circle cx="163.3" cy="137.5" r="2.78"/><circle cx="521.6" cy="378.3" r="2.78"/><circle cx="436.0" cy="306.6" r="2.78"/><circle cx="484.1" cy="347.8" r="2.78"/><circle cx="421.0" cy="306.0" r="2.78"/><circle cx="254.7" cy="201.3" r="2.78"/><circle cx="190.1" cy="145.9" r="2.78"/><circle cx="313.5" cy="235.0" r="2.78"/><circle cx="480.0" cy="345.5" r="2.78"/><circle cx="317.0" cy="239.4" r="2.78"/><circle cx="337.6" cy="247.3" r="2.78"/><circle cx="367.3" cy="277.9" r="2.78"/><circle cx="280.7" cy="203.1" r="2.78"/><circle cx="211.8" cy="166.7" r="2.78"/><circle cx="279.2" cy="200.7" r="2.78"/><circle cx="299.2" cy="222.8" r="2.78"/><circle cx="105.8" cy="85.4" r="2.78"/><circle cx="403.2" cy="296.1" r="2.78"/><circle cx="202.5" cy="151.3" r="2.78"/><circle cx="319.5" cy="232.8" r="2.78"/><circle cx="355.5" cy="262.2" r="2.78"/><circle cx="187.9" cy="152.0" r="2.78"/><circle cx="404.8" cy="298.0" r="2.78"/><circle cx="401.2" cy="292.9" r="2.78"/><circle cx="217.4" cy="179.2" r="2.78"/><circle cx="490.3" cy="347.3" r="2.78"/><circle cx="498.3" cy="355.9" r="2.78"/><circle cx="139.5" cy="116.9" r="2.78"/><circle cx="436.7" cy="312.5" r="2.78"/><circle cx="162.8" cy="129.9" r="2.78"/><circle cx="370.5" cy="285.1" r="2.78"/><circle cx="243.9" cy="185.2" r="2.78"/><circle cx="205.9" cy="151.1" r="2.78"/><circle cx="170.8" cy="138.7" r="2.78"/><circle cx="361.9" cy="260.9" r="2.78"/><circle cx="171.1" cy="136.2" r="2.78"/><circle cx="138.9" cy="118.5" r="2.78"/><circle cx="235.5" cy="179.2" r="2.78"/><circle cx="180.2" cy="151.2" r="2.78"/><circle cx="287.3" cy="215.8" r="2.78"/><circle cx="306.7" cy="233.0" r="2.78"/><circle cx="300.5" cy="223.8" r="2.78"/><circle cx="351.0" cy="250.1" r="2.78"/><circle cx="174.1" cy="140.0" r="2.78"/><circle cx="396.7" cy="291.5" r="2.78"/><circle cx="272.1" cy="197.5" r="2.78"/><circle cx="281.2" cy="198.7" r="2.78"/><circle cx="392.3" cy="280.5" r="2.78"/><circle cx="167.1" cy="141.8" r="2.78"/><circle cx="342.9" cy="242.6" r="2.78"/><circle cx="458.7" cy="333.7" r="2.78"/><circle cx="251.6" cy="193.1" r="2.78"/><circle cx="488.3" cy="351.8" r="2.78"/><circle cx="284.3" cy="203.1" r="2.78"/><circle cx="335.2" cy="254.3" r="2.78"/><circle cx="410.8" cy="308.3" r="2.78"/><circle cx="164.2" cy="130.5" r="2.78"/><circle cx="459.5" cy="336.1" r="2.78"/><circle cx="350.2" cy="255.5" r="2.78"/><circle cx="245.6" cy="190.4" r="2.78"/><circle cx="333.2" cy="251.6" r="2.78"/><circle cx="179.7" cy="146.2" r="2.78"/><circle cx="478.8" cy="342.1" r="2.78"/><circle cx="114.6" cy="94.4" r="2.78"/><circle cx="304.0" cy="228.1" r="2.78"/><circle cx="255.4" cy="201.5" r="2.78"/><circle cx="249.7" cy="187.2" r="2.78"/><circle cx="492.1" cy="355.8" r="2.78"/><circle cx="302.8" cy="225.6" r="2.78"/><circle cx="265.3" cy="201.8" r="2.78"/><circle cx="432.1" cy="305.7" r="2.78"/><circle cx="258.3" cy="195.0" r="2.78"/><circle cx="255.1" cy="201.6" r="2.78"/><circle cx="328.8" cy="243.2" r="2.78"/><circle cx="242.4" cy="184.8" r="2.78"/><circle cx="170.4" cy="142.5" r="2.78"/><circle cx="112.5" cy="89.3" r="2.78"/><circle cx="128.3" cy="112.5" r="2.78"/><circle cx="164.8" cy="130.8" r="2.78"/><circle cx="127.5" cy="106.5" r="2.78"/><circle cx="410.1" cy="306.7" r="2.78"/><circle cx="484.1" cy="354.3" r="2.78"/><circle cx="333.8" cy="256.7" r="2.78"/><circle cx="140.9" cy="129.4" r="2.78"/><circle cx="284.9" cy="203.0" r="2.78"/><circle cx="416.2" cy="303.8" r="2.78"/><circle cx="264.7" cy="193.8" r="2.78"/><circle cx="468.5" cy="332.3" r="2.78"/><circle cx="353.1" cy="260.3" r="2.78"/><circle cx="119.3" cy="89.4" r="2.78"/><circle cx="155.3" cy="118.3" r="2.78"/><circle cx="399.6" cy="288.6" r="2.78"/><circle cx="150.4" cy="118.1" r="2.78"/><circle cx="179.0" cy="152.4" r="2.78"/><circle cx="384.6" cy="284.6" r="2.78"/><circle cx="254.2" cy="201.5" r="2.78"/><circle cx="285.1" cy="206.2" r="2.78"/><circle cx="209.3" cy="157.9" r="2.78"/><circle cx="511.0" cy="366.9" r="2.78"/><circle cx="398.6" cy="279.2" r="2.78"/><circle cx="178.6" cy="146.2" r="2.78"/><circle cx="250.2" cy="191.7" r="2.78"/><circle cx="128.0" cy="109.5" r="2.78"/><circle cx="388.1" cy="276.6" r="2.78"/><circle cx="287.2" cy="213.9" r="2.78"/><circle cx="344.2" cy="250.0" r="2.78"/><circle cx="472.0" cy="337.1" r="2.78"/><circle cx="244.3" cy="176.8" r="2.78"/><circle cx="497.9" cy="359.5" r="2.78"/><circle cx="486.0" cy="350.9" r="2.78"/><circle cx="163.0" cy="126.0" r="2.78"/><circle cx="263.7" cy="203.1" r="2.78"/><circle cx="105.3" cy="96.2" r="2.78"/><circle cx="432.1" cy="309.5" r="2.78"/><circle cx="105.7" cy="95.7" r="2.78"/><circle cx="276.6" cy="203.3" r="2.78"/><circle cx="341.7" cy="254.6" r="2.78"/><circle cx="274.4" cy="209.6" r="2.78"/><circle cx="503.0" cy="360.6" r="2.78"/><circle cx="360.7" cy="260.0" r="2.78"/><circle cx="260.9" cy="196.1" r="2.78"/><circle cx="481.4" cy="345.7" r="2.78"/><circle cx="433.0" cy="315.0" r="2.78"/><circle cx="517.8" cy="380.1" r="2.78"/><circle cx="236.5" cy="183.6" r="2.78"/><circle cx="213.1" cy="171.7" r="2.78"/><circle cx="169.7" cy="144.3" r="2.78"/><circle cx="307.8" cy="223.9" r="2.78"/><circle cx="489.4" cy="347.4" r="2.78"/><circle cx="492.4" cy="357.4" r="2.78"/><circle cx="165.7" cy="138.7" r="2.78"/><circle cx="343.2" cy="257.9" r="2.78"/><circle cx="348.7" cy="252.8" r="2.78"/><circle cx="493.7" cy="349.6" r="2.78"/><circle cx="428.4" cy="299.5" r="2.78"/><circle cx="219.1" cy="173.6" r="2.78"/><circle cx="467.8" cy="327.5" r="2.78"/><circle cx="407.2" cy="296.3" r="2.78"/><circle cx="408.8" cy="303.9" r="2.78"/><circle cx="144.2" cy="123.9" r="2.78"/><circle cx="405.3" cy="290.7" r="2.78"/><circle cx="377.0" cy="278.0" r="2.78"/><circle cx="258.3" cy="203.7" r="2.78"/><circle cx="497.8" cy="360.7" r="2.78"/><circle cx="281.9" cy="203.7" r="2.78"/><circle cx="441.5" cy="319.2" r="2.78"/><circle cx="294.2" cy="227.6" r="2.78"/><circle cx="271.2" cy="208.0" r="2.78"/><circle cx="301.1" cy="222.8" r="2.78"/><circle cx="416.7" cy="295.2" r="2.78"/><circle cx="387.6" cy="277.0" r="2.78"/><circle cx="516.7" cy="377.4" r="2.78"/><circle cx="413.0" cy="297.9" r="2.78"/><circle cx="369.7" cy="275.8" r="2.78"/><circle cx="207.6" cy="163.2" r="2.78"/><circle cx="117.3" cy="98.0" r="2.78"/><circle cx="139.7" cy="127.9" r="2.78"/><circle cx="477.0" cy="331.5" r="2.78"/><circle cx="297.7" cy="226.8" r="2.78"/><circle cx="404.0" cy="296.7" r="2.78"/><circle cx="246.9" cy="190.9" r="2.78"/><circle cx="180.9" cy="147.1" r="2.78"/><circle cx="444.1" cy="316.2" r="2.78"/><circle cx="181.1" cy="151.8" r="2.78"/><circle cx="244.1" cy="170.9" r="2.78"/><circle cx="492.3" cy="353.6" r="2.78"/><circle cx="432.1" cy="305.5" r="2.78"/><circle cx="485.1" cy="343.4" r="2.78"/><circle cx="482.5" cy="345.0" r="2.78"/><circle cx="509.5" cy="362.4" r="2.78"/><circle cx="367.2" cy="273.1" r="2.78"/><circle cx="460.9" cy="329.7" r="2.78"/><circle cx="144.5" cy="130.1" r="2.78"/><circle cx="440.3" cy="316.5" r="2.78"/><circle cx="414.9" cy="297.0" r="2.78"/><circle cx="297.2" cy="230.0" r="2.78"/><circle cx="505.7" cy="361.1" r="2.78"/><circle cx="170.5" cy="142.5" r="2.78"/><circle cx="335.1" cy="251.8" r="2.78"/><circle cx="173.5" cy="139.9" r="2.78"/><circle cx="300.1" cy="227.2" r="2.78"/><circle cx="215.4" cy="171.3" r="2.78"/><circle cx="335.1" cy="255.3" r="2.78"/><circle cx="349.9" cy="249.9" r="2.78"/><circle cx="474.0" cy="334.5" r="2.78"/><circle cx="103.4" cy="82.2" r="2.78"/><circle cx="103.4" cy="97.9" r="2.78"/><circle cx="107.4" cy="75.7" r="2.78"/><circle cx="107.4" cy="95.7" r="2.78"/><circle cx="111.4" cy="81.0" r="2.78"/><circle cx="111.4" cy="96.5" r="2.78"/><circle cx="115.4" cy="90.4" r="2.78"/><circle cx="115.4" cy="106.3" r="2.78"/><circle cx="119.4" cy="87.0" r="2.78"/><circle cx="119.4" cy="107.7" r="2.78"/><circle cx="123.4" cy="92.1" r="2.78"/><circle cx="123.4" cy="111.6" r="2.78"/><circle cx="127.4" cy="104.4" r="2.78"/><circle cx="127.4" cy="113.7" r="2.78"/><circle cx="131.4" cy="106.8" r="2.78"/><circle cx="131.4" cy="115.6" r="2.78"/><circle cx="135.4" cy="109.2" r="2.78"/><circle cx="135.4" cy="122.3" r="2.78"/><circle cx="139.4" cy="116.6" r="2.78"/><circle cx="139.4" cy="129.4" r="2.78"/><circle cx="143.4" cy="118.0" r="2.78"/><circle cx="143.4" cy="130.6" r="2.78"/><circle cx="147.4" cy="116.2" r="2.78"/><circle cx="147.4" cy="130.3" r="2.78"/><circle cx="151.4" cy="114.8" r="2.78"/><circle cx="151.4" cy="129.1" r="2.78"/><circle cx="155.4" cy="117.5" r="2.78"/><circle cx="155.4" cy="129.7" r="2.78"/><circle cx="159.4" cy="121.3" r="2.78"/><circle cx="159.4" cy="136.1" r="2.78"/><circle cx="163.4" cy="124.0" r="2.78"/><circle cx="163.4" cy="139.1" r="2.78"/><circle cx="167.4" cy="129.0" r="2.78"/><circle cx="167.4" cy="145.4" r="2.78"/><circle cx="171.4" cy="134.8" r="2.78"/><circle cx="171.4" cy="148.2" r="2.78"/><circle cx="175.4" cy="141.8" r="2.78"/><circle cx="175.4" cy="154.7" r="2.78"/><circle cx="179.4" cy="146.6" r="2.78"/><circle cx="179.4" cy="156.8" r="2.78"/><circle cx="183.4" cy="147.6" r="2.78"/><circle cx="183.4" cy="159.1" r="2.78"/><circle cx="187.4" cy="144.0" r="2.78"/><circle cx="187.4" cy="156.4" r="2.78"/><circle cx="191.4" cy="149.1" r="2.78"/><circle cx="191.4" cy="161.9" r="2.78"/><circle cx="195.4" cy="148.4" r="2.78"/><circle cx="195.4" cy="162.9" r="2.78"/><circle cx="199.4" cy="147.3" r="2.78"/><circle cx="199.4" cy="159.9" r="2.78"/><circle cx="203.4" cy="148.0" r="2.78"/><circle cx="203.4" cy="160.5" r="2.78"/><circle cx="207.4" cy="149.0" r="2.78"/><circle cx="207.4" cy="165.9" r="2.78"/><circle cx="211.4" cy="161.3" r="2.78"/><circle cx="211.4" cy="172.5" r="2.78"/><circle cx="215.4" cy="166.0" r="2.78"/><circle cx="215.4" cy="176.7" r="2.78"/><circle cx="219.4" cy="172.2" r="2.78"/><circle cx="219.4" cy="182.1" r="2.78"/><circle cx="223.4" cy="174.4" r="2.78"/><circle cx="223.4" cy="188.2" r="2.78"/><circle cx="227.4" cy="171.4" r="2.78"/><circle cx="227.4" cy="188.1" r="2.78"/><circle cx="231.4" cy="167.4" r="2.78"/><circle cx="231.4" cy="188.0" r="2.78"/><circle cx="235.4" cy="171.7" r="2.78"/><circle cx="235.4" cy="186.0" r="2.78"/><circle cx="239.4" cy="166.1" r="2.78"/><circle cx="239.4" cy="186.3" r="2.78"/><circle cx="243.4" cy="166.0" r="2.78"/><circle cx="243.4" cy="191.1" r="2.78"/><circle cx="247.4" cy="172.4" r="2.78"/><circle cx="247.4" cy="191.7" r="2.78"/><circle cx="251.4" cy="184.4" r="2.78"/><circle cx="251.4" cy="196.5" r="2.78"/><circle cx="255.4" cy="191.0" r="2.78"/><circle cx="255.4" cy="202.3" r="2.78"/><circle cx="259.4" cy="191.0" r="2.78"/><circle cx="259.4" cy="206.6" r="2.78"/><circle cx="263.4" cy="193.9" r="2.78"/><circle cx="263.4" cy="207.3" r="2.78"/><circle cx="267.4" cy="193.4" r="2.78"/><circle cx="267.4" cy="206.1" r="2.78"/><circle cx="271.4" cy="190.8" r="2.78"/><circle cx="271.4" cy="210.0" r="2.78"/><circle cx="275.4" cy="188.6" r="2.78"/><circle cx="275.4" cy="211.4" r="2.78"/><circle cx="279.4" cy="192.8" r="2.78"/><circle cx="279.4" cy="207.6" r="2.78"/><circle cx="283.4" cy="195.1" r="2.78"/><circle cx="283.4" cy="213.1" r="2.78"/><circle cx="287.4" cy="206.7" r="2.78"/><circle cx="287.4" cy="215.6" r="2.78"/><circle cx="291.4" cy="213.2" r="2.78"/><circle cx="291.4" cy="222.6" r="2.78"/><circle cx="295.4" cy="218.4" r="2.78"/><circle cx="295.4" cy="232.2" r="2.78"/><circle cx="299.4" cy="221.8" r="2.78"/><circle cx="299.4" cy="233.3" r="2.78"/><circle cx="303.4" cy="222.2" r="2.78"/><circle cx="303.4" cy="235.7" r="2.78"/><circle cx="307.4" cy="222.0" r="2.78"/><circle cx="307.4" cy="233.8" r="2.78"/><circle cx="311.4" cy="218.6" r="2.78"/><circle cx="311.4" cy="234.4" r="2.78"/><circle cx="315.4" cy="224.6" r="2.78"/><circle cx="315.4" cy="238.9" r="2.78"/><circle cx="319.4" cy="231.7" r="2.78"/><circle cx="319.4" cy="243.3" r="2.78"/><circle cx="323.4" cy="235.1" r="2.78"/><circle cx="323.4" cy="248.4" r="2.78"/><circle cx="327.4" cy="237.0" r="2.78"/><circle cx="327.4" cy="252.9" r="2.78"/><circle cx="331.4" cy="245.5" r="2.78"/><circle cx="331.4" cy="256.0" r="2.78"/><circle cx="335.4" cy="246.8" r="2.78"/><circle cx="335.4" cy="258.9" r="2.78"/><circle cx="339.4" cy="242.8" r="2.78"/><circle cx="339.4" cy="258.8" r="2.78"/><circle cx="343.4" cy="241.0" r="2.78"/><circle cx="343.4" cy="258.8" r="2.78"/><circle cx="347.4" cy="247.0" r="2.78"/><circle cx="347.4" cy="260.6" r="2.78"/><circle cx="351.4" cy="249.0" r="2.78"/><circle cx="351.4" cy="257.5" r="2.78"/><circle cx="355.4" cy="252.5" r="2.78"/><circle cx="355.4" cy="263.7" r="2.78"/><circle cx="359.4" cy="253.8" r="2.78"/><circle cx="359.4" cy="269.0" r="2.78"/><circle cx="363.4" cy="260.5" r="2.78"/><circle cx="363.4" cy="269.0" r="2.78"/><circle cx="367.4" cy="264.1" r="2.78"/><circle cx="367.4" cy="282.3" r="2.78"/><circle cx="371.4" cy="274.9" r="2.78"/><circle cx="371.4" cy="286.5" r="2.78"/><circle cx="375.4" cy="277.9" r="2.78"/><circle cx="375.4" cy="286.1" r="2.78"/><circle cx="379.4" cy="271.9" r="2.78"/><circle cx="379.4" cy="283.8" r="2.78"/><circle cx="383.4" cy="274.6" r="2.78"/><circle cx="383.4" cy="283.3" r="2.78"/><circle cx="387.4" cy="276.2" r="2.78"/><circle cx="387.4" cy="288.8" r="2.78"/><circle cx="391.4" cy="275.6" r="2.78"/><circle cx="391.4" cy="288.3" r="2.78"/><circle cx="395.4" cy="278.7" r="2.78"/><circle cx="395.4" cy="292.1" r="2.78"/><circle cx="399.4" cy="278.4" r="2.78"/><circle cx="399.4" cy="294.3" r="2.78"/><circle cx="403.4" cy="285.4" r="2.78"/><circle cx="403.4" cy="301.4" r="2.78"/><circle cx="407.4" cy="295.6" r="2.78"/><circle cx="407.4" cy="306.6" r="2.78"/><circle cx="411.4" cy="297.6" r="2.78"/><circle cx="411.4" cy="308.4" r="2.78"/><circle cx="415.4" cy="293.2" r="2.78"/><circle cx="415.4" cy="306.4" r="2.78"/><circle cx="419.4" cy="297.1" r="2.78"/><circle cx="419.4" cy="304.7" r="2.78"/><circle cx="423.4" cy="297.4" r="2.78"/><circle cx="423.4" cy="309.0" r="2.78"/><circle cx="427.4" cy="297.9" r="2.78"/><circle cx="427.4" cy="312.6" r="2.78"/><circle cx="431.4" cy="301.0" r="2.78"/><circle cx="431.4" cy="315.1" r="2.78"/><circle cx="435.4" cy="304.1" r="2.78"/><circle cx="435.4" cy="317.6" r="2.78"/><circle cx="439.4" cy="306.1" r="2.78"/><circle cx="439.4" cy="318.1" r="2.78"/><circle cx="443.4" cy="316.0" r="2.78"/><circle cx="443.4" cy="322.8" r="2.78"/><circle cx="447.4" cy="317.6" r="2.78"/><circle cx="447.4" cy="328.8" r="2.78"/><circle cx="451.4" cy="323.8" r="2.78"/><circle cx="451.4" cy="332.4" r="2.78"/><circle cx="455.4" cy="320.9" r="2.78"/><circle cx="455.4" cy="329.3" r="2.78"/><circle cx="459.4" cy="325.6" r="2.78"/><circle cx="459.4" cy="339.9" r="2.78"/><circle cx="463.4" cy="324.2" r="2.78"/><circle cx="463.4" cy="332.4" r="2.78"/><circle cx="467.4" cy="323.1" r="2.78"/><circle cx="467.4" cy="334.2" r="2.78"/><circle cx="471.4" cy="328.9" r="2.78"/><circle cx="471.4" cy="343.2" r="2.78"/><circle cx="475.4" cy="330.0" r="2.78"/><circle cx="475.4" cy="343.0" r="2.78"/><circle cx="479.4" cy="334.9" r="2.78"/><circle cx="479.4" cy="343.2" r="2.78"/><circle cx="483.4" cy="337.2" r="2.78"/><circle cx="483.4" cy="352.0" r="2.78"/><circle cx="487.4" cy="346.5" r="2.78"/><circle cx="487.4" cy="361.8" r="2.78"/><circle cx="491.4" cy="346.5" r="2.78"/><circle cx="491.4" cy="362.0" r="2.78"/><circle cx="495.4" cy="350.7" r="2.78"/><circle cx="495.4" cy="359.7" r="2.78"/><circle cx="499.4" cy="351.4" r="2.78"/><circle cx="499.4" cy="359.8" r="2.78"/><circle cx="503.4" cy="350.3" r="2.78"/><circle cx="503.4" cy="360.5" r="2.78"/><circle cx="507.4" cy="352.5" r="2.78"/><circle cx="507.4" cy="361.1" r="2.78"/><circle cx="511.4" cy="358.2" r="2.78"/><circle cx="511.4" cy="369.4" r="2.78"/><circle cx="515.4" cy="364.9" r="2.78"/><circle cx="515.4" cy="381.8" r="2.78"/><circle cx="519.4" cy="372.8" r="2.78"/><circle cx="519.4" cy="383.0" r="2.78"/><circle cx="103.4" cy="82.8" r="2.78"/><circle cx="103.4" cy="80.3" r="2.78"/><circle cx="105.0" cy="76.8" r="2.78"/><circle cx="108.1" cy="74.7" r="2.78"/><circle cx="111.2" cy="76.8" r="2.78"/><circle cx="112.0" cy="80.3" r="2.78"/><circle cx="112.7" cy="87.6" r="2.78"/><circle cx="115.8" cy="88.6" r="2.78"/><circle cx="120.6" cy="86.3" r="2.78"/><circle cx="124.5" cy="93.8" r="2.78"/><circle cx="126.0" cy="101.8" r="2.78"/><circle cx="132.5" cy="103.8" r="2.78"/><circle cx="136.0" cy="108.8" r="2.78"/><circle cx="138.5" cy="114.3" r="2.78"/><circle cx="145.0" cy="115.3" r="2.78"/><circle cx="148.8" cy="114.8" r="2.78"/><circle cx="154.4" cy="112.5" r="2.78"/><circle cx="156.2" cy="120.3" r="2.78"/><circle cx="163.8" cy="122.2" r="2.78"/><circle cx="165.0" cy="127.2" r="2.78"/><circle cx="168.8" cy="127.2" r="2.78"/><circle cx="171.9" cy="132.8" r="2.78"/><circle cx="175.0" cy="139.0" r="2.78"/><circle cx="178.8" cy="142.8" r="2.78"/><circle cx="183.8" cy="145.3" r="2.78"/><circle cx="189.4" cy="143.1" r="2.78"/><circle cx="192.5" cy="147.2" r="2.78"/><circle cx="197.5" cy="145.8" r="2.78"/><circle cx="204.4" cy="146.0" r="2.78"/><circle cx="208.8" cy="150.3" r="2.78"/><circle cx="211.9" cy="162.8" r="2.78"/><circle cx="215.6" cy="165.8" r="2.78"/><circle cx="220.0" cy="172.2" r="2.78"/><circle cx="225.0" cy="172.8" r="2.78"/><circle cx="227.5" cy="167.8" r="2.78"/><circle cx="231.2" cy="164.7" r="2.78"/><circle cx="233.8" cy="170.3" r="2.78"/><circle cx="238.8" cy="165.8" r="2.78"/><circle cx="243.8" cy="165.0" r="2.78"/><circle cx="248.0" cy="172.2" r="2.78"/><circle cx="251.2" cy="180.8" r="2.78"/><circle cx="254.4" cy="187.8" r="2.78"/><circle cx="258.0" cy="186.8" r="2.78"/><circle cx="261.9" cy="192.2" r="2.78"/><circle cx="264.4" cy="190.8" r="2.78"/><circle cx="267.5" cy="192.2" r="2.78"/><circle cx="275.0" cy="187.8" r="2.78"/><circle cx="278.8" cy="190.8" r="2.78"/><circle cx="281.2" cy="190.5" r="2.78"/><circle cx="283.8" cy="195.3" r="2.78"/><circle cx="286.2" cy="202.8" r="2.78"/><circle cx="290.0" cy="209.0" r="2.78"/><circle cx="293.8" cy="216.5" r="2.78"/><circle cx="297.5" cy="220.8" r="2.78"/><circle cx="301.9" cy="219.7" r="2.78"/><circle cx="308.0" cy="219.0" r="2.78"/><circle cx="313.8" cy="217.8" r="2.78"/><circle cx="315.6" cy="224.0" r="2.78"/><circle cx="321.2" cy="231.5" r="2.78"/><circle cx="326.9" cy="234.8" r="2.78"/><circle cx="330.0" cy="239.0" r="2.78"/><circle cx="333.8" cy="247.8" r="2.78"/><circle cx="338.8" cy="242.8" r="2.78"/><circle cx="344.4" cy="240.3" r="2.78"/><circle cx="347.5" cy="245.8" r="2.78"/><circle cx="353.0" cy="247.8" r="2.78"/><circle cx="355.0" cy="251.5" r="2.78"/><circle cx="359.4" cy="252.8" r="2.78"/><circle cx="363.8" cy="257.8" r="2.78"/><circle cx="367.5" cy="262.8" r="2.78"/><circle cx="369.4" cy="267.8" r="2.78"/><circle cx="371.2" cy="274.7" r="2.78"/><circle cx="375.0" cy="275.3" r="2.78"/><circle cx="380.0" cy="270.8" r="2.78"/><circle cx="383.8" cy="274.8" r="2.78"/><circle cx="386.9" cy="275.3" r="2.78"/><circle cx="391.9" cy="272.8" r="2.78"/><circle cx="395.6" cy="277.2" r="2.78"/><circle cx="398.8" cy="274.7" r="2.78"/><circle cx="401.2" cy="280.3" r="2.78"/><circle cx="405.0" cy="285.3" r="2.78"/><circle cx="407.5" cy="292.8" r="2.78"/><circle cx="410.0" cy="298.4" r="2.78"/><circle cx="416.2" cy="291.5" r="2.78"/><circle cx="421.2" cy="296.5" r="2.78"/><circle cx="427.5" cy="295.5" r="2.78"/><circle cx="432.5" cy="300.8" r="2.78"/><circle cx="438.8" cy="304.7" r="2.78"/><circle cx="442.5" cy="311.5" r="2.78"/><circle cx="446.2" cy="315.8" r="2.78"/><circle cx="451.2" cy="322.2" r="2.78"/><circle cx="455.6" cy="318.4" r="2.78"/><circle cx="459.4" cy="322.8" r="2.78"/><circle cx="463.8" cy="320.8" r="2.78"/><circle cx="468.0" cy="321.5" r="2.78"/><circle cx="470.6" cy="327.2" r="2.78"/><circle cx="475.0" cy="327.2" r="2.78"/><circle cx="478.0" cy="330.8" r="2.78"/><circle cx="481.2" cy="335.8" r="2.78"/><circle cx="485.6" cy="338.4" r="2.78"/><circle cx="487.5" cy="344.0" r="2.78"/><circle cx="492.5" cy="345.8" r="2.78"/><circle cx="497.5" cy="350.8" r="2.78"/><circle cx="505.6" cy="348.4" r="2.78"/><circle cx="508.8" cy="354.0" r="2.78"/><circle cx="513.8" cy="359.0" r="2.78"/><circle cx="515.6" cy="365.3" r="2.78"/><circle cx="519.4" cy="369.8" r="2.78"/><circle cx="521.6" cy="373.4" r="2.78"/><circle cx="521.6" cy="380.3" r="2.78"/><circle cx="103.4" cy="97.2" r="2.78"/><circle cx="103.4" cy="101.2" r="2.78"/><circle cx="105.5" cy="102.2" r="2.78"/><circle cx="108.0" cy="96.2" r="2.78"/><circle cx="110.0" cy="93.7" r="2.78"/><circle cx="112.5" cy="101.2" r="2.78"/><circle cx="116.2" cy="109.2" r="2.78"/><circle cx="120.0" cy="108.2" r="2.78"/><circle cx="125.0" cy="114.7" r="2.78"/><circle cx="131.0" cy="117.2" r="2.78"/><circle cx="133.5" cy="122.6" r="2.78"/><circle cx="138.8" cy="131.0" r="2.78"/><circle cx="142.9" cy="133.0" r="2.78"/><circle cx="149.2" cy="132.2" r="2.78"/><circle cx="155.0" cy="132.8" r="2.78"/><circle cx="162.5" cy="138.5" r="2.78"/><circle cx="167.5" cy="146.0" r="2.78"/><circle cx="171.2" cy="149.7" r="2.78"/><circle cx="172.0" cy="154.7" r="2.78"/><circle cx="175.0" cy="157.8" r="2.78"/><circle cx="181.2" cy="159.7" r="2.78"/><circle cx="187.5" cy="157.8" r="2.78"/><circle cx="193.0" cy="165.2" r="2.78"/><circle cx="197.5" cy="161.0" r="2.78"/><circle cx="201.2" cy="165.2" r="2.78"/><circle cx="206.2" cy="161.0" r="2.78"/><circle cx="208.0" cy="169.7" r="2.78"/><circle cx="211.2" cy="175.2" r="2.78"/><circle cx="216.2" cy="181.0" r="2.78"/><circle cx="220.0" cy="186.0" r="2.78"/><circle cx="225.0" cy="191.0" r="2.78"/><circle cx="230.0" cy="187.8" r="2.78"/><circle cx="236.2" cy="189.7" r="2.78"/><circle cx="241.2" cy="188.5" r="2.78"/><circle cx="243.8" cy="192.2" r="2.78"/><circle cx="248.8" cy="194.7" r="2.78"/><circle cx="251.9" cy="201.0" r="2.78"/><circle cx="255.6" cy="204.7" r="2.78"/><circle cx="262.5" cy="209.2" r="2.78"/><circle cx="268.8" cy="209.2" r="2.78"/><circle cx="275.0" cy="212.2" r="2.78"/><circle cx="278.8" cy="209.7" r="2.78"/><circle cx="283.8" cy="215.2" r="2.78"/><circle cx="288.8" cy="218.5" r="2.78"/><circle cx="292.0" cy="226.0" r="2.78"/><circle cx="295.0" cy="232.2" r="2.78"/><circle cx="300.6" cy="234.7" r="2.78"/><circle cx="304.4" cy="237.2" r="2.78"/><circle cx="308.8" cy="233.5" r="2.78"/><circle cx="312.5" cy="237.2" r="2.78"/><circle cx="320.0" cy="244.7" r="2.78"/><circle cx="323.0" cy="251.0" r="2.78"/><circle cx="331.5" cy="258.2" r="2.78"/><circle cx="337.5" cy="259.7" r="2.78"/><circle cx="341.2" cy="260.2" r="2.78"/><circle cx="346.2" cy="262.2" r="2.78"/><circle cx="350.6" cy="260.2" r="2.78"/><circle cx="355.0" cy="263.5" r="2.78"/><circle cx="358.0" cy="269.7" r="2.78"/><circle cx="363.8" cy="271.6" r="2.78"/><circle cx="366.2" cy="276.0" r="2.78"/><circle cx="366.9" cy="282.2" r="2.78"/><circle cx="370.0" cy="286.4" r="2.78"/><circle cx="375.2" cy="288.5" r="2.78"/><circle cx="382.5" cy="284.2" r="2.78"/><circle cx="388.8" cy="290.5" r="2.78"/><circle cx="392.5" cy="291.0" r="2.78"/><circle cx="398.8" cy="294.7" r="2.78"/><circle cx="401.9" cy="300.2" r="2.78"/><circle cx="406.2" cy="304.7" r="2.78"/><circle cx="410.0" cy="311.0" r="2.78"/><circle cx="415.0" cy="306.6" r="2.78"/><circle cx="422.5" cy="309.2" r="2.78"/><circle cx="427.5" cy="313.5" r="2.78"/><circle cx="433.0" cy="319.2" r="2.78"/><circle cx="437.5" cy="317.2" r="2.78"/><circle cx="440.0" cy="321.0" r="2.78"/><circle cx="445.0" cy="328.5" r="2.78"/><circle cx="450.6" cy="333.5" r="2.78"/><circle cx="455.6" cy="331.0" r="2.78"/><circle cx="459.4" cy="341.0" r="2.78"/><circle cx="463.8" cy="334.7" r="2.78"/><circle cx="468.0" cy="334.7" r="2.78"/><circle cx="470.0" cy="342.2" r="2.78"/><circle cx="473.8" cy="346.0" r="2.78"/><circle cx="478.0" cy="344.7" r="2.78"/><circle cx="482.5" cy="351.0" r="2.78"/><circle cx="483.8" cy="356.0" r="2.78"/><circle cx="487.2" cy="362.2" r="2.78"/><circle cx="493.0" cy="362.2" r="2.78"/><circle cx="500.0" cy="362.2" r="2.78"/><circle cx="505.6" cy="363.5" r="2.78"/><circle cx="510.0" cy="366.0" r="2.78"/><circle cx="512.5" cy="372.2" r="2.78"/><circle cx="513.0" cy="379.7" r="2.78"/><circle cx="516.9" cy="387.2" r="2.78"/><circle cx="521.6" cy="382.2" r="2.78"/><circle cx="521.6" cy="383.2" r="2.78"/><circle cx="532.5" cy="386.3" r="2.78"/><circle cx="546.0" cy="386.5" r="2.78"/><circle cx="537.9" cy="389.4" r="2.78"/><circle cx="528.9" cy="386.3" r="2.78"/><circle cx="529.8" cy="385.9" r="2.78"/><circle cx="549.8" cy="402.4" r="2.78"/><circle cx="536.4" cy="387.8" r="2.78"/><circle cx="547.7" cy="400.4" r="2.78"/><circle cx="542.9" cy="398.8" r="2.78"/><circle cx="544.3" cy="399.8" r="2.78"/><circle cx="542.4" cy="387.2" r="2.78"/><circle cx="541.3" cy="390.8" r="2.78"/><circle cx="536.9" cy="387.6" r="2.78"/><circle cx="541.1" cy="391.9" r="2.78"/><circle cx="534.1" cy="385.7" r="2.78"/><circle cx="540.9" cy="390.8" r="2.78"/><circle cx="538.8" cy="390.4" r="2.78"/><circle cx="533.2" cy="385.6" r="2.78"/><circle cx="535.4" cy="386.7" r="2.78"/><circle cx="545.7" cy="398.3" r="2.78"/><circle cx="541.2" cy="388.1" r="2.78"/><circle cx="551.0" cy="396.3" r="2.78"/><circle cx="537.8" cy="387.8" r="2.78"/><circle cx="538.4" cy="390.1" r="2.78"/><circle cx="548.5" cy="394.0" r="2.78"/><circle cx="546.4" cy="388.5" r="2.78"/><circle cx="539.6" cy="388.9" r="2.78"/><circle cx="536.1" cy="387.3" r="2.78"/><circle cx="546.9" cy="398.1" r="2.78"/><circle cx="533.8" cy="385.3" r="2.78"/><circle cx="547.6" cy="396.8" r="2.78"/><circle cx="545.0" cy="395.1" r="2.78"/><circle cx="545.5" cy="389.0" r="2.78"/><circle cx="530.2" cy="385.7" r="2.78"/><circle cx="529.6" cy="386.3" r="2.78"/><circle cx="541.4" cy="393.1" r="2.78"/><circle cx="552.0" cy="402.6" r="2.78"/><circle cx="534.3" cy="385.9" r="2.78"/><circle cx="531.4" cy="386.2" r="2.78"/><circle cx="546.5" cy="393.6" r="2.78"/><circle cx="537.7" cy="387.7" r="2.78"/><circle cx="540.5" cy="392.6" r="2.78"/><circle cx="550.3" cy="400.2" r="2.78"/><circle cx="549.6" cy="393.7" r="2.78"/><circle cx="538.9" cy="388.3" r="2.78"/><circle cx="552.2" cy="393.0" r="2.78"/><circle cx="532.6" cy="384.5" r="2.78"/><circle cx="550.9" cy="401.3" r="2.78"/><circle cx="536.7" cy="388.3" r="2.78"/><circle cx="550.2" cy="393.8" r="2.78"/><circle cx="533.4" cy="386.2" r="2.78"/><circle cx="537.8" cy="387.1" r="2.78"/><circle cx="550.5" cy="394.3" r="2.78"/><circle cx="538.3" cy="389.4" r="2.78"/><circle cx="534.9" cy="386.2" r="2.78"/><circle cx="538.2" cy="388.3" r="2.78"/><circle cx="529.0" cy="386.2" r="2.78"/><circle cx="537.7" cy="389.4" r="2.78"/><circle cx="536.8" cy="388.1" r="2.78"/><circle cx="543.8" cy="386.7" r="2.78"/><circle cx="529.3" cy="386.2" r="2.78"/><circle cx="545.0" cy="394.6" r="2.78"/><circle cx="535.8" cy="387.0" r="2.78"/><circle cx="533.6" cy="386.4" r="2.78"/><circle cx="550.6" cy="391.4" r="2.78"/><circle cx="542.9" cy="392.8" r="2.78"/><circle cx="536.5" cy="387.1" r="2.78"/><circle cx="536.6" cy="387.8" r="2.78"/><circle cx="543.3" cy="391.9" r="2.78"/><circle cx="531.7" cy="384.4" r="2.78"/><circle cx="536.3" cy="387.4" r="2.78"/><circle cx="537.5" cy="389.6" r="2.78"/><circle cx="531.6" cy="386.7" r="2.78"/><circle cx="534.6" cy="386.6" r="2.78"/><circle cx="534.6" cy="386.4" r="2.78"/><circle cx="537.8" cy="386.8" r="2.78"/><circle cx="547.9" cy="399.5" r="2.78"/><circle cx="535.3" cy="386.7" r="2.78"/><circle cx="540.3" cy="394.9" r="2.78"/><circle cx="530.1" cy="385.8" r="2.78"/><circle cx="534.3" cy="386.2" r="2.78"/><circle cx="547.5" cy="400.0" r="2.78"/><circle cx="542.0" cy="389.9" r="2.78"/><circle cx="548.0" cy="387.4" r="2.78"/><circle cx="535.0" cy="386.6" r="2.78"/><circle cx="539.4" cy="393.3" r="2.78"/><circle cx="531.0" cy="385.5" r="2.78"/><circle cx="533.9" cy="385.1" r="2.78"/><circle cx="531.0" cy="384.7" r="2.78"/><circle cx="537.6" cy="388.2" r="2.78"/><circle cx="541.0" cy="388.5" r="2.78"/><circle cx="545.7" cy="393.5" r="2.78"/><circle cx="552.4" cy="393.2" r="2.78"/><circle cx="541.1" cy="390.8" r="2.78"/><circle cx="537.7" cy="389.8" r="2.78"/><circle cx="533.8" cy="386.5" r="2.78"/><circle cx="537.4" cy="387.8" r="2.78"/><circle cx="543.6" cy="392.8" r="2.78"/><circle cx="535.6" cy="386.8" r="2.78"/><circle cx="530.8" cy="386.6" r="2.78"/><circle cx="537.7" cy="387.1" r="2.78"/><circle cx="544.6" cy="392.8" r="2.78"/><circle cx="536.7" cy="387.5" r="2.78"/><circle cx="549.1" cy="391.8" r="2.78"/><circle cx="538.8" cy="392.1" r="2.78"/><circle cx="537.5" cy="388.0" r="2.78"/><circle cx="532.7" cy="385.7" r="2.78"/><circle cx="544.8" cy="391.5" r="2.78"/><circle cx="538.5" cy="387.7" r="2.78"/><circle cx="547.8" cy="393.4" r="2.78"/><circle cx="548.8" cy="392.3" r="2.78"/><circle cx="546.4" cy="385.2" r="2.78"/><circle cx="534.1" cy="386.7" r="2.78"/><circle cx="545.2" cy="395.9" r="2.78"/><circle cx="540.7" cy="390.4" r="2.78"/><circle cx="533.5" cy="385.0" r="2.78"/><circle cx="544.3" cy="395.4" r="2.78"/><circle cx="535.0" cy="386.5" r="2.78"/><circle cx="532.1" cy="385.4" r="2.78"/><circle cx="532.9" cy="385.4" r="2.78"/><circle cx="536.3" cy="387.5" r="2.78"/><circle cx="532.0" cy="385.0" r="2.78"/><circle cx="543.6" cy="385.9" r="2.78"/><circle cx="536.2" cy="387.4" r="2.78"/><circle cx="541.9" cy="393.0" r="2.78"/><circle cx="547.5" cy="395.3" r="2.78"/><circle cx="534.1" cy="385.9" r="2.78"/><circle cx="548.7" cy="395.4" r="2.78"/><circle cx="546.9" cy="391.5" r="2.78"/><circle cx="539.6" cy="393.5" r="2.78"/><circle cx="548.5" cy="396.8" r="2.78"/><circle cx="531.3" cy="385.7" r="2.78"/><circle cx="529.6" cy="386.3" r="2.78"/><circle cx="552.1" cy="401.7" r="2.78"/><circle cx="535.2" cy="386.7" r="2.78"/><circle cx="533.0" cy="386.3" r="2.78"/><circle cx="541.3" cy="385.3" r="2.78"/><circle cx="550.2" cy="394.0" r="2.78"/><circle cx="548.7" cy="397.5" r="2.78"/><circle cx="541.6" cy="395.7" r="2.78"/><circle cx="533.7" cy="386.5" r="2.78"/><circle cx="536.9" cy="387.0" r="2.78"/><circle cx="536.9" cy="387.1" r="2.78"/><circle cx="530.5" cy="386.0" r="2.78"/><circle cx="531.7" cy="384.3" r="2.78"/><circle cx="535.8" cy="386.9" r="2.78"/><circle cx="535.5" cy="386.7" r="2.78"/><circle cx="550.9" cy="402.0" r="2.78"/><circle cx="549.7" cy="402.3" r="2.78"/><circle cx="539.4" cy="391.9" r="2.78"/><circle cx="528.8" cy="385.2" r="2.78"/><circle cx="528.8" cy="385.2" r="2.78"/><circle cx="532.8" cy="385.2" r="2.78"/><circle cx="532.8" cy="385.7" r="2.78"/><circle cx="536.8" cy="386.3" r="2.78"/><circle cx="536.8" cy="389.7" r="2.78"/><circle cx="540.8" cy="387.2" r="2.78"/><circle cx="540.8" cy="395.5" r="2.78"/><circle cx="544.8" cy="384.3" r="2.78"/><circle cx="544.8" cy="399.8" r="2.78"/><circle cx="548.8" cy="385.1" r="2.78"/><circle cx="548.8" cy="401.7" r="2.78"/><circle cx="552.8" cy="391.5" r="2.78"/><circle cx="552.8" cy="406.2" r="2.78"/><circle cx="528.8" cy="387.8" r="2.78"/><circle cx="528.8" cy="386.0" r="2.78"/><circle cx="532.2" cy="381.8" r="2.78"/><circle cx="536.0" cy="385.8" r="2.78"/><circle cx="540.0" cy="384.5" r="2.78"/><circle cx="544.2" cy="381.8" r="2.78"/><circle cx="549.4" cy="385.0" r="2.78"/><circle cx="552.0" cy="388.1" r="2.78"/><circle cx="552.8" cy="392.8" r="2.78"/><circle cx="552.8" cy="399.0" r="2.78"/><circle cx="552.8" cy="410.5" r="2.78"/><circle cx="528.8" cy="386.2" r="2.78"/><circle cx="530.6" cy="388.2" r="2.78"/><circle cx="535.8" cy="388.2" r="2.78"/><circle cx="542.0" cy="399.7" r="2.78"/><circle cx="546.2" cy="404.4" r="2.78"/><circle cx="550.4" cy="403.9" r="2.78"/><circle cx="552.8" cy="410.2" r="2.78"/><circle cx="552.8" cy="404.9" r="2.78"/><circle cx="128.3" cy="84.2" r="2.78"/><circle cx="228.5" cy="197.2" r="2.78"/><circle cx="300.0" cy="242.5" r="2.78"/><circle cx="312.2" cy="246.2" r="2.78"/><circle cx="334.2" cy="268.3" r="2.78"/><circle cx="418.5" cy="320.0" r="2.78"/><circle cx="489.5" cy="369.2" r="2.78"/><circle cx="497.5" cy="369.4" r="2.78"/><circle cx="498.5" cy="366.3" r="2.78"/><circle cx="520.2" cy="395.2" r="2.78"/><circle cx="530.4" cy="398.5" r="2.78"/><circle cx="530.4" cy="400.5" r="2.78"/><circle cx="538.4" cy="403.8" r="2.78"/><circle cx="538.4" cy="406.0" r="2.78"/>
</g>
<g fill="none" stroke="#000" stroke-width="1.11">
<rect x="80.5" y="58.5" width="496" height="369" stroke-linejoin="miter"/>
<path d="M118.5 427.5V432.5"/><path d="M196.5 427.5V432.5"/><path d="M273.5 427.5V432.5"/><path d="M350.5 427.5V432.5"/><path d="M427.5 427.5V432.5"/><path d="M504.5 427.5V432.5"/><path d="M75.5 81.5H80.5"/><path d="M75.5 142.5H80.5"/><path d="M75.5 204.5H80.5"/><path d="M75.5 265.5H80.5"/><path d="M75.5 327.5H80.5"/><path d="M75.5 388.5H80.5"/>
</g>
<g font-size="13.89px" style="fill:#121212">
<text transform="translate(118.4,447.5) scale(1.107,1)" text-anchor="middle">2000</text><text transform="translate(195.4,447.5) scale(1.107,1)" text-anchor="middle">2002</text><text transform="translate(272.4,447.5) scale(1.107,1)" text-anchor="middle">2004</text><text transform="translate(349.5,447.6) scale(1.13,1)" text-anchor="middle">2006</text><text transform="translate(427.5,447.6) scale(1.13,1)" text-anchor="middle">2008</text><text transform="translate(504.5,447.8) scale(1.13,1)" text-anchor="middle">2010</text>
<text transform="translate(70.20,86.5) scale(1.075,1)" text-anchor="end">0.00</text><text transform="translate(69.74,147.5) scale(1.11,1)" text-anchor="end">−0.02</text><text transform="translate(69.74,208.7) scale(1.11,1)" text-anchor="end">−0.04</text><text transform="translate(69.00,270.5) scale(1.116,1)" text-anchor="end">−0.06</text><text transform="translate(69.20,331.7) scale(1.14,1)" text-anchor="end">−0.08</text><text transform="translate(69.30,393.5) scale(1.14,1)" text-anchor="end">−0.10</text>
<text transform="translate(19.7,244.3) rotate(-90) scale(1.152,1)" text-anchor="middle">m</text>
</g>
<text transform="translate(327.6,48.50) scale(1.010,1)" font-size="16.67px" text-anchor="middle" stroke="#000" stroke-width="0.1">CHLO N</text>
<rect x="378.5" y="65.5" width="191" height="25" rx="2.78" fill="#fff" fill-opacity="0.8" stroke="#d6d6d6" stroke-width="1.11"/>
<circle cx="397.5" cy="76.5" r="2.78" fill="#f00"/>
<text transform="translate(426.9,80.5) scale(1.104,1)" font-size="13.89px" style="fill:#121212">repro2018a (IGS14)</text>
</svg>
</body></html>
